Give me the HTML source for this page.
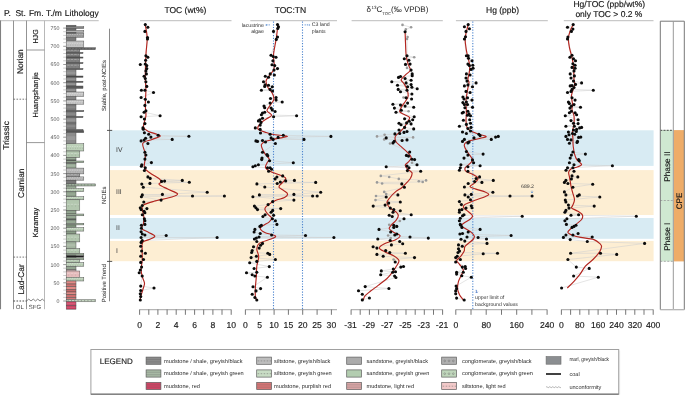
<!DOCTYPE html><html><head><meta charset="utf-8"><style>html,body{margin:0;padding:0;background:#fff;width:685px;height:395px;overflow:hidden}svg{display:block;will-change:transform}text{font-family:"Liberation Sans", sans-serif;text-rendering:geometricPrecision}</style></head><body>
<svg width="685" height="395" viewBox="0 0 685 395">
<rect width="685" height="395" fill="#fff"/>
<rect x="109.5" y="130.3" width="544.1" height="35.6" fill="#d8ebf3"/>
<rect x="109.5" y="170.1" width="544.1" height="44.9" fill="#fdeed3"/>
<rect x="109.5" y="218.0" width="544.1" height="20.8" fill="#d8ebf3"/>
<rect x="109.5" y="240.9" width="544.1" height="20.3" fill="#fdeed3"/>
<text x="4.0" y="15.6" font-size="8.50" text-anchor="start" fill="#151515" stroke="#151515" stroke-width="0.15">P.</text>
<text x="15.4" y="15.6" font-size="8.50" text-anchor="start" fill="#151515" stroke="#151515" stroke-width="0.15">St.</text>
<text x="28.9" y="15.6" font-size="8.50" text-anchor="start" fill="#151515" stroke="#151515" stroke-width="0.15">Fm.</text>
<text x="45.9" y="15.6" font-size="8.50" text-anchor="start" fill="#151515" stroke="#151515" stroke-width="0.15">T./m</text>
<text x="64.8" y="15.6" font-size="8.50" text-anchor="start" fill="#151515" stroke="#151515" stroke-width="0.15">Lithology</text>
<line x1="0" y1="20.6" x2="98.7" y2="20.6" stroke="#c9c9c9" stroke-width="1.2"/>
<line x1="140.0" y1="20.6" x2="231.5" y2="20.6" stroke="#c9c9c9" stroke-width="1.2"/>
<line x1="250.3" y1="20.6" x2="337.0" y2="20.6" stroke="#c9c9c9" stroke-width="1.2"/>
<line x1="351.6" y1="20.6" x2="442.8" y2="20.6" stroke="#c9c9c9" stroke-width="1.2"/>
<line x1="455.9" y1="20.6" x2="547.8" y2="20.6" stroke="#c9c9c9" stroke-width="1.2"/>
<line x1="563.8" y1="20.6" x2="653.5" y2="20.6" stroke="#c9c9c9" stroke-width="1.2"/>
<text x="185.4" y="12.5" font-size="8.50" text-anchor="middle" fill="#151515" stroke="#151515" stroke-width="0.15">TOC (wt%)</text>
<text x="290.4" y="12.5" font-size="8.50" text-anchor="middle" fill="#151515" stroke="#151515" stroke-width="0.15">TOC:TN</text>
<text x="366.6" y="12.0" font-size="8.0" fill="#1a1a1a">&#948;<tspan font-size="4.5" dy="-3.0" dx="0.4">13</tspan><tspan dy="3.0">C</tspan><tspan font-size="4.2" dy="2.6">TOC</tspan><tspan dy="-2.6">(&#8240; VPDB)</tspan></text>
<text x="502.6" y="12.5" font-size="8.50" text-anchor="middle" fill="#151515" stroke="#151515" stroke-width="0.15">Hg (ppb)</text>
<text x="609.2" y="7.0" font-size="8.50" text-anchor="middle" fill="#151515" stroke="#151515" stroke-width="0.15">Hg/TOC (ppb/wt%)</text>
<text x="608.9" y="17.0" font-size="8.50" text-anchor="middle" fill="#151515" stroke="#151515" stroke-width="0.15">only TOC &gt; 0.2 %</text>
<line x1="0.5" y1="20.6" x2="0.5" y2="309.2" stroke="#808080" stroke-width="1.1"/>
<line x1="13.5" y1="20.6" x2="13.5" y2="309.2" stroke="#939393" stroke-width="1"/>
<line x1="26.5" y1="20.6" x2="26.5" y2="309.2" stroke="#939393" stroke-width="1"/>
<line x1="44.5" y1="20.6" x2="44.5" y2="309.2" stroke="#b8b8b8" stroke-width="1"/>
<line x1="26.5" y1="50" x2="44.5" y2="50" stroke="#7d7d7d" stroke-width="0.8"/>
<line x1="26.5" y1="142.6" x2="44.5" y2="142.6" stroke="#7d7d7d" stroke-width="0.8"/>
<line x1="13.5" y1="99.2" x2="26.5" y2="99.2" stroke="#555" stroke-width="0.8" stroke-dasharray="1.6,1.4"/>
<line x1="13.5" y1="257.1" x2="26.5" y2="257.1" stroke="#555" stroke-width="0.8" stroke-dasharray="1.6,1.4"/>
<line x1="13.5" y1="301" x2="26.5" y2="301" stroke="#333" stroke-width="0.9" stroke-dasharray="1.6,1.4"/>
<path d="M26.5,301 l2.25,-1.9 l2.25,1.9 l2.25,-1.9 l2.25,1.9 l2.25,-1.9 l2.25,1.9 l2.25,-1.9 l2.25,1.9" fill="none" stroke="#666" stroke-width="0.8"/>
<text x="8.7" y="135.4" font-size="8.40" text-anchor="middle" fill="#151515" stroke="#151515" stroke-width="0.15" transform="rotate(-90 8.7 135.4)">Triassic</text>
<text x="22.6" y="61.6" font-size="8.40" text-anchor="middle" fill="#151515" stroke="#151515" stroke-width="0.15" transform="rotate(-90 22.6 61.6)">Norian</text>
<text x="23.6" y="183.2" font-size="8.40" text-anchor="middle" fill="#151515" stroke="#151515" stroke-width="0.15" transform="rotate(-90 23.6 183.2)">Carnian</text>
<text x="23.6" y="279.4" font-size="8.40" text-anchor="middle" fill="#151515" stroke="#151515" stroke-width="0.15" transform="rotate(-90 23.6 279.4)">Lad-Car</text>
<text x="38.1" y="36.4" font-size="7.20" text-anchor="middle" fill="#151515" stroke="#151515" stroke-width="0.15" transform="rotate(-90 38.1 36.4)">HJG</text>
<text x="38.0" y="94.8" font-size="7.40" text-anchor="middle" fill="#151515" stroke="#151515" stroke-width="0.15" transform="rotate(-90 38.0 94.8)">Huangshanjie</text>
<text x="38.0" y="222.5" font-size="7.40" text-anchor="middle" fill="#151515" stroke="#151515" stroke-width="0.15" transform="rotate(-90 38.0 222.5)">Karamay</text>
<text x="19.8" y="308.7" font-size="6.00" text-anchor="middle" fill="#444" stroke="#444" stroke-width="0.00">OL</text>
<text x="35.0" y="308.7" font-size="6.00" text-anchor="middle" fill="#444" stroke="#444" stroke-width="0.00">SFG</text>
<line x1="63.2" y1="301.0" x2="66.2" y2="301.0" stroke="#555" stroke-width="0.6"/>
<line x1="63.2" y1="297.4" x2="66.2" y2="297.4" stroke="#aaa" stroke-width="0.6"/>
<line x1="63.2" y1="293.7" x2="66.2" y2="293.7" stroke="#aaa" stroke-width="0.6"/>
<line x1="63.2" y1="290.1" x2="66.2" y2="290.1" stroke="#aaa" stroke-width="0.6"/>
<line x1="63.2" y1="286.4" x2="66.2" y2="286.4" stroke="#aaa" stroke-width="0.6"/>
<line x1="63.2" y1="282.8" x2="66.2" y2="282.8" stroke="#555" stroke-width="0.6"/>
<line x1="63.2" y1="279.2" x2="66.2" y2="279.2" stroke="#aaa" stroke-width="0.6"/>
<line x1="63.2" y1="275.5" x2="66.2" y2="275.5" stroke="#aaa" stroke-width="0.6"/>
<line x1="63.2" y1="271.9" x2="66.2" y2="271.9" stroke="#aaa" stroke-width="0.6"/>
<line x1="63.2" y1="268.2" x2="66.2" y2="268.2" stroke="#aaa" stroke-width="0.6"/>
<line x1="63.2" y1="264.6" x2="66.2" y2="264.6" stroke="#555" stroke-width="0.6"/>
<line x1="63.2" y1="261.0" x2="66.2" y2="261.0" stroke="#aaa" stroke-width="0.6"/>
<line x1="63.2" y1="257.3" x2="66.2" y2="257.3" stroke="#aaa" stroke-width="0.6"/>
<line x1="63.2" y1="253.7" x2="66.2" y2="253.7" stroke="#aaa" stroke-width="0.6"/>
<line x1="63.2" y1="250.1" x2="66.2" y2="250.1" stroke="#aaa" stroke-width="0.6"/>
<line x1="63.2" y1="246.4" x2="66.2" y2="246.4" stroke="#555" stroke-width="0.6"/>
<line x1="63.2" y1="242.8" x2="66.2" y2="242.8" stroke="#aaa" stroke-width="0.6"/>
<line x1="63.2" y1="239.1" x2="66.2" y2="239.1" stroke="#aaa" stroke-width="0.6"/>
<line x1="63.2" y1="235.5" x2="66.2" y2="235.5" stroke="#aaa" stroke-width="0.6"/>
<line x1="63.2" y1="231.9" x2="66.2" y2="231.9" stroke="#aaa" stroke-width="0.6"/>
<line x1="63.2" y1="228.2" x2="66.2" y2="228.2" stroke="#555" stroke-width="0.6"/>
<line x1="63.2" y1="224.6" x2="66.2" y2="224.6" stroke="#aaa" stroke-width="0.6"/>
<line x1="63.2" y1="220.9" x2="66.2" y2="220.9" stroke="#aaa" stroke-width="0.6"/>
<line x1="63.2" y1="217.3" x2="66.2" y2="217.3" stroke="#aaa" stroke-width="0.6"/>
<line x1="63.2" y1="213.7" x2="66.2" y2="213.7" stroke="#aaa" stroke-width="0.6"/>
<line x1="63.2" y1="210.0" x2="66.2" y2="210.0" stroke="#555" stroke-width="0.6"/>
<line x1="63.2" y1="206.4" x2="66.2" y2="206.4" stroke="#aaa" stroke-width="0.6"/>
<line x1="63.2" y1="202.7" x2="66.2" y2="202.7" stroke="#aaa" stroke-width="0.6"/>
<line x1="63.2" y1="199.1" x2="66.2" y2="199.1" stroke="#aaa" stroke-width="0.6"/>
<line x1="63.2" y1="195.5" x2="66.2" y2="195.5" stroke="#aaa" stroke-width="0.6"/>
<line x1="63.2" y1="191.8" x2="66.2" y2="191.8" stroke="#555" stroke-width="0.6"/>
<line x1="63.2" y1="188.2" x2="66.2" y2="188.2" stroke="#aaa" stroke-width="0.6"/>
<line x1="63.2" y1="184.6" x2="66.2" y2="184.6" stroke="#aaa" stroke-width="0.6"/>
<line x1="63.2" y1="180.9" x2="66.2" y2="180.9" stroke="#aaa" stroke-width="0.6"/>
<line x1="63.2" y1="177.3" x2="66.2" y2="177.3" stroke="#aaa" stroke-width="0.6"/>
<line x1="63.2" y1="173.6" x2="66.2" y2="173.6" stroke="#555" stroke-width="0.6"/>
<line x1="63.2" y1="170.0" x2="66.2" y2="170.0" stroke="#aaa" stroke-width="0.6"/>
<line x1="63.2" y1="166.4" x2="66.2" y2="166.4" stroke="#aaa" stroke-width="0.6"/>
<line x1="63.2" y1="162.7" x2="66.2" y2="162.7" stroke="#aaa" stroke-width="0.6"/>
<line x1="63.2" y1="159.1" x2="66.2" y2="159.1" stroke="#aaa" stroke-width="0.6"/>
<line x1="63.2" y1="155.4" x2="66.2" y2="155.4" stroke="#555" stroke-width="0.6"/>
<line x1="63.2" y1="151.8" x2="66.2" y2="151.8" stroke="#aaa" stroke-width="0.6"/>
<line x1="63.2" y1="148.2" x2="66.2" y2="148.2" stroke="#aaa" stroke-width="0.6"/>
<line x1="63.2" y1="144.5" x2="66.2" y2="144.5" stroke="#aaa" stroke-width="0.6"/>
<line x1="63.2" y1="140.9" x2="66.2" y2="140.9" stroke="#aaa" stroke-width="0.6"/>
<line x1="63.2" y1="137.2" x2="66.2" y2="137.2" stroke="#555" stroke-width="0.6"/>
<line x1="63.2" y1="133.6" x2="66.2" y2="133.6" stroke="#aaa" stroke-width="0.6"/>
<line x1="63.2" y1="130.0" x2="66.2" y2="130.0" stroke="#aaa" stroke-width="0.6"/>
<line x1="63.2" y1="126.3" x2="66.2" y2="126.3" stroke="#aaa" stroke-width="0.6"/>
<line x1="63.2" y1="122.7" x2="66.2" y2="122.7" stroke="#aaa" stroke-width="0.6"/>
<line x1="63.2" y1="119.1" x2="66.2" y2="119.1" stroke="#555" stroke-width="0.6"/>
<line x1="63.2" y1="115.4" x2="66.2" y2="115.4" stroke="#aaa" stroke-width="0.6"/>
<line x1="63.2" y1="111.8" x2="66.2" y2="111.8" stroke="#aaa" stroke-width="0.6"/>
<line x1="63.2" y1="108.1" x2="66.2" y2="108.1" stroke="#aaa" stroke-width="0.6"/>
<line x1="63.2" y1="104.5" x2="66.2" y2="104.5" stroke="#aaa" stroke-width="0.6"/>
<line x1="63.2" y1="100.9" x2="66.2" y2="100.9" stroke="#555" stroke-width="0.6"/>
<line x1="63.2" y1="97.2" x2="66.2" y2="97.2" stroke="#aaa" stroke-width="0.6"/>
<line x1="63.2" y1="93.6" x2="66.2" y2="93.6" stroke="#aaa" stroke-width="0.6"/>
<line x1="63.2" y1="89.9" x2="66.2" y2="89.9" stroke="#aaa" stroke-width="0.6"/>
<line x1="63.2" y1="86.3" x2="66.2" y2="86.3" stroke="#aaa" stroke-width="0.6"/>
<line x1="63.2" y1="82.7" x2="66.2" y2="82.7" stroke="#555" stroke-width="0.6"/>
<line x1="63.2" y1="79.0" x2="66.2" y2="79.0" stroke="#aaa" stroke-width="0.6"/>
<line x1="63.2" y1="75.4" x2="66.2" y2="75.4" stroke="#aaa" stroke-width="0.6"/>
<line x1="63.2" y1="71.7" x2="66.2" y2="71.7" stroke="#aaa" stroke-width="0.6"/>
<line x1="63.2" y1="68.1" x2="66.2" y2="68.1" stroke="#aaa" stroke-width="0.6"/>
<line x1="63.2" y1="64.5" x2="66.2" y2="64.5" stroke="#555" stroke-width="0.6"/>
<line x1="63.2" y1="60.8" x2="66.2" y2="60.8" stroke="#aaa" stroke-width="0.6"/>
<line x1="63.2" y1="57.2" x2="66.2" y2="57.2" stroke="#aaa" stroke-width="0.6"/>
<line x1="63.2" y1="53.5" x2="66.2" y2="53.5" stroke="#aaa" stroke-width="0.6"/>
<line x1="63.2" y1="49.9" x2="66.2" y2="49.9" stroke="#aaa" stroke-width="0.6"/>
<line x1="63.2" y1="46.3" x2="66.2" y2="46.3" stroke="#555" stroke-width="0.6"/>
<line x1="63.2" y1="42.6" x2="66.2" y2="42.6" stroke="#aaa" stroke-width="0.6"/>
<line x1="63.2" y1="39.0" x2="66.2" y2="39.0" stroke="#aaa" stroke-width="0.6"/>
<line x1="63.2" y1="35.4" x2="66.2" y2="35.4" stroke="#aaa" stroke-width="0.6"/>
<line x1="63.2" y1="31.7" x2="66.2" y2="31.7" stroke="#aaa" stroke-width="0.6"/>
<line x1="63.2" y1="28.1" x2="66.2" y2="28.1" stroke="#555" stroke-width="0.6"/>
<text x="59.4" y="302.9" font-size="5.30" text-anchor="end" fill="#555" stroke="#555" stroke-width="0.00">0</text>
<text x="59.4" y="284.7" font-size="5.30" text-anchor="end" fill="#555" stroke="#555" stroke-width="0.00">50</text>
<text x="59.4" y="266.5" font-size="5.30" text-anchor="end" fill="#555" stroke="#555" stroke-width="0.00">100</text>
<text x="59.4" y="248.3" font-size="5.30" text-anchor="end" fill="#555" stroke="#555" stroke-width="0.00">150</text>
<text x="59.4" y="230.1" font-size="5.30" text-anchor="end" fill="#555" stroke="#555" stroke-width="0.00">200</text>
<text x="59.4" y="211.9" font-size="5.30" text-anchor="end" fill="#555" stroke="#555" stroke-width="0.00">250</text>
<text x="59.4" y="193.7" font-size="5.30" text-anchor="end" fill="#555" stroke="#555" stroke-width="0.00">300</text>
<text x="59.4" y="175.5" font-size="5.30" text-anchor="end" fill="#555" stroke="#555" stroke-width="0.00">350</text>
<text x="59.4" y="157.3" font-size="5.30" text-anchor="end" fill="#555" stroke="#555" stroke-width="0.00">400</text>
<text x="59.4" y="139.1" font-size="5.30" text-anchor="end" fill="#555" stroke="#555" stroke-width="0.00">450</text>
<text x="59.4" y="121.0" font-size="5.30" text-anchor="end" fill="#555" stroke="#555" stroke-width="0.00">500</text>
<text x="59.4" y="102.8" font-size="5.30" text-anchor="end" fill="#555" stroke="#555" stroke-width="0.00">550</text>
<text x="59.4" y="84.6" font-size="5.30" text-anchor="end" fill="#555" stroke="#555" stroke-width="0.00">600</text>
<text x="59.4" y="66.4" font-size="5.30" text-anchor="end" fill="#555" stroke="#555" stroke-width="0.00">650</text>
<text x="59.4" y="48.2" font-size="5.30" text-anchor="end" fill="#555" stroke="#555" stroke-width="0.00">700</text>
<text x="59.4" y="30.0" font-size="5.30" text-anchor="end" fill="#555" stroke="#555" stroke-width="0.00">750</text>
<rect x="66.2" y="25.20" width="9.8" height="1.50" fill="#6a6a6a" stroke="#4a4a4a" stroke-width="0.45"/>
<rect x="66.2" y="26.70" width="17.6" height="1.80" fill="#858585" stroke="#4a4a4a" stroke-width="0.45"/>
<rect x="66.2" y="28.50" width="9.8" height="2.00" fill="#6a6a6a" stroke="#4a4a4a" stroke-width="0.45"/>
<rect x="66.2" y="30.50" width="17.6" height="1.90" fill="#b0b0b0" stroke="#4a4a4a" stroke-width="0.45"/>
<rect x="66.2" y="32.40" width="9.8" height="1.10" fill="#5e5e5e" stroke="#4a4a4a" stroke-width="0.45"/>
<rect x="66.2" y="33.50" width="17.6" height="3.80" fill="#9c9c9c" stroke="#4a4a4a" stroke-width="0.45"/>
<line x1="67.2" y1="34.50" x2="82.8" y2="34.50" stroke="#ffffff" stroke-opacity="0.35" stroke-width="0.9" stroke-dasharray="1.2,1.2"/>
<line x1="67.8" y1="36.30" x2="82.8" y2="36.30" stroke="#555" stroke-opacity="0.35" stroke-width="0.7" stroke-dasharray="0.8,1.6"/>
<rect x="66.2" y="37.50" width="9.8" height="3.10" fill="#7a7a7a" stroke="#4a4a4a" stroke-width="0.45"/>
<rect x="66.2" y="41.00" width="17.6" height="6.40" fill="#c4c4c4" stroke="#4a4a4a" stroke-width="0.45"/>
<line x1="67.2" y1="43.30" x2="82.8" y2="43.30" stroke="#ffffff" stroke-opacity="0.35" stroke-width="0.9" stroke-dasharray="1.2,1.2"/>
<line x1="67.8" y1="45.10" x2="82.8" y2="45.10" stroke="#555" stroke-opacity="0.35" stroke-width="0.7" stroke-dasharray="0.8,1.6"/>
<rect x="66.2" y="47.70" width="29.3" height="2.00" fill="#6a6a6a" stroke="#4a4a4a" stroke-width="0.45"/>
<line x1="67.7" y1="48.70" x2="94.5" y2="48.70" stroke="#333" stroke-opacity="0.6" stroke-width="0.8" stroke-dasharray="0.9,2.4"/>
<rect x="66.2" y="49.70" width="13.6" height="2.70" fill="#7c7c7c" stroke="#4a4a4a" stroke-width="0.45"/>
<line x1="67.2" y1="50.25" x2="78.8" y2="50.25" stroke="#fff" stroke-opacity="0.35" stroke-width="0.8" stroke-dasharray="2.5,1"/>
<line x1="68.2" y1="51.95" x2="78.8" y2="51.95" stroke="#444" stroke-opacity="0.3" stroke-width="0.6" stroke-dasharray="0.8,2.6"/>
<rect x="66.2" y="52.40" width="16.8" height="1.10" fill="#555" stroke="#4a4a4a" stroke-width="0.45"/>
<rect x="66.2" y="53.50" width="13.6" height="3.50" fill="#7c7c7c" stroke="#4a4a4a" stroke-width="0.45"/>
<line x1="67.2" y1="54.45" x2="78.8" y2="54.45" stroke="#fff" stroke-opacity="0.35" stroke-width="0.8" stroke-dasharray="2.5,1"/>
<line x1="68.2" y1="56.15" x2="78.8" y2="56.15" stroke="#444" stroke-opacity="0.3" stroke-width="0.6" stroke-dasharray="0.8,2.6"/>
<rect x="66.2" y="57.00" width="16.8" height="1.10" fill="#555" stroke="#4a4a4a" stroke-width="0.45"/>
<rect x="66.2" y="58.10" width="13.6" height="4.40" fill="#808080" stroke="#4a4a4a" stroke-width="0.45"/>
<line x1="67.2" y1="59.50" x2="78.8" y2="59.50" stroke="#fff" stroke-opacity="0.35" stroke-width="0.8" stroke-dasharray="2.5,1"/>
<line x1="68.2" y1="61.20" x2="78.8" y2="61.20" stroke="#444" stroke-opacity="0.3" stroke-width="0.6" stroke-dasharray="0.8,2.6"/>
<rect x="66.2" y="62.50" width="16.8" height="1.10" fill="#555" stroke="#4a4a4a" stroke-width="0.45"/>
<rect x="66.2" y="63.60" width="13.6" height="4.80" fill="#808080" stroke="#4a4a4a" stroke-width="0.45"/>
<line x1="67.2" y1="65.20" x2="78.8" y2="65.20" stroke="#fff" stroke-opacity="0.35" stroke-width="0.8" stroke-dasharray="2.5,1"/>
<line x1="68.2" y1="66.90" x2="78.8" y2="66.90" stroke="#444" stroke-opacity="0.3" stroke-width="0.6" stroke-dasharray="0.8,2.6"/>
<rect x="66.2" y="68.40" width="16.8" height="1.30" fill="#6a6a6a" stroke="#4a4a4a" stroke-width="0.45"/>
<rect x="66.2" y="69.70" width="9.8" height="6.30" fill="#888" stroke="#4a4a4a" stroke-width="0.45"/>
<line x1="66.5" y1="72.85" x2="75.7" y2="72.85" stroke="#fff" stroke-opacity="0.12" stroke-width="2.2"/>
<rect x="66.2" y="76.00" width="16.8" height="1.30" fill="#4a4a4a" stroke="#4a4a4a" stroke-width="0.45"/>
<rect x="66.2" y="77.30" width="9.8" height="3.90" fill="#858585" stroke="#4a4a4a" stroke-width="0.45"/>
<line x1="66.5" y1="79.25" x2="75.7" y2="79.25" stroke="#fff" stroke-opacity="0.12" stroke-width="1.4"/>
<rect x="66.2" y="81.20" width="16.8" height="1.20" fill="#555" stroke="#4a4a4a" stroke-width="0.45"/>
<rect x="66.2" y="82.40" width="9.8" height="3.60" fill="#878787" stroke="#4a4a4a" stroke-width="0.45"/>
<line x1="66.5" y1="84.20" x2="75.7" y2="84.20" stroke="#fff" stroke-opacity="0.12" stroke-width="1.3"/>
<rect x="66.2" y="86.00" width="16.8" height="2.40" fill="#5a5a5a" stroke="#4a4a4a" stroke-width="0.45"/>
<rect x="66.2" y="88.40" width="9.8" height="3.60" fill="#858585" stroke="#4a4a4a" stroke-width="0.45"/>
<line x1="66.5" y1="90.20" x2="75.7" y2="90.20" stroke="#fff" stroke-opacity="0.12" stroke-width="1.3"/>
<rect x="66.2" y="92.00" width="17.6" height="4.60" fill="#c8c8c8" stroke="#4a4a4a" stroke-width="0.45"/>
<line x1="67.2" y1="93.40" x2="82.8" y2="93.40" stroke="#ffffff" stroke-opacity="0.35" stroke-width="0.9" stroke-dasharray="1.2,1.2"/>
<line x1="67.8" y1="95.20" x2="82.8" y2="95.20" stroke="#555" stroke-opacity="0.35" stroke-width="0.7" stroke-dasharray="0.8,1.6"/>
<rect x="66.2" y="96.60" width="9.8" height="3.40" fill="#858585" stroke="#4a4a4a" stroke-width="0.45"/>
<rect x="66.2" y="100.00" width="17.6" height="4.20" fill="#c8c8c8" stroke="#4a4a4a" stroke-width="0.45"/>
<line x1="67.2" y1="101.20" x2="82.8" y2="101.20" stroke="#ffffff" stroke-opacity="0.35" stroke-width="0.9" stroke-dasharray="1.2,1.2"/>
<line x1="67.8" y1="103.00" x2="82.8" y2="103.00" stroke="#555" stroke-opacity="0.35" stroke-width="0.7" stroke-dasharray="0.8,1.6"/>
<rect x="66.2" y="104.20" width="9.8" height="6.20" fill="#7a7a7a" stroke="#4a4a4a" stroke-width="0.45"/>
<line x1="66.5" y1="107.30" x2="75.7" y2="107.30" stroke="#fff" stroke-opacity="0.12" stroke-width="2.2"/>
<rect x="66.2" y="110.40" width="17.6" height="1.30" fill="#6a6a6a" stroke="#4a4a4a" stroke-width="0.45"/>
<rect x="66.2" y="111.70" width="9.8" height="4.70" fill="#7c7c7c" stroke="#4a4a4a" stroke-width="0.45"/>
<line x1="66.5" y1="114.05" x2="75.7" y2="114.05" stroke="#fff" stroke-opacity="0.12" stroke-width="1.6"/>
<rect x="66.2" y="116.40" width="16.8" height="1.20" fill="#555" stroke="#4a4a4a" stroke-width="0.45"/>
<rect x="66.2" y="117.60" width="9.8" height="5.40" fill="#8a8a8a" stroke="#4a4a4a" stroke-width="0.45"/>
<line x1="66.5" y1="120.30" x2="75.7" y2="120.30" stroke="#fff" stroke-opacity="0.12" stroke-width="1.9"/>
<rect x="66.2" y="123.00" width="9.8" height="6.40" fill="#7a7a7a" stroke="#4a4a4a" stroke-width="0.45"/>
<line x1="66.5" y1="126.20" x2="75.7" y2="126.20" stroke="#fff" stroke-opacity="0.12" stroke-width="2.2"/>
<rect x="66.2" y="129.40" width="16.8" height="1.40" fill="#7a7a7a" stroke="#4a4a4a" stroke-width="0.45"/>
<rect x="66.2" y="130.80" width="17.6" height="1.80" fill="#555" stroke="#4a4a4a" stroke-width="0.45"/>
<rect x="66.2" y="132.60" width="9.8" height="11.10" fill="#8c8c8c" stroke="#4a4a4a" stroke-width="0.45"/>
<line x1="66.5" y1="138.15" x2="75.7" y2="138.15" stroke="#fff" stroke-opacity="0.12" stroke-width="3.9"/>
<rect x="66.2" y="143.70" width="17.6" height="7.30" fill="#bcd0b8" stroke="#4a4a4a" stroke-width="0.45"/>
<line x1="67.2" y1="146.45" x2="82.8" y2="146.45" stroke="#ffffff" stroke-opacity="0.35" stroke-width="0.9" stroke-dasharray="1.2,1.2"/>
<line x1="67.8" y1="148.25" x2="82.8" y2="148.25" stroke="#555" stroke-opacity="0.35" stroke-width="0.7" stroke-dasharray="0.8,1.6"/>
<rect x="66.2" y="151.00" width="13.6" height="6.60" fill="#b3c7af" stroke="#4a4a4a" stroke-width="0.45"/>
<line x1="67.2" y1="153.50" x2="78.8" y2="153.50" stroke="#fff" stroke-opacity="0.35" stroke-width="0.8" stroke-dasharray="2.5,1"/>
<line x1="68.2" y1="155.20" x2="78.8" y2="155.20" stroke="#444" stroke-opacity="0.3" stroke-width="0.6" stroke-dasharray="0.8,2.6"/>
<rect x="66.2" y="157.60" width="9.8" height="2.40" fill="#97a994" stroke="#4a4a4a" stroke-width="0.45"/>
<rect x="66.2" y="160.00" width="9.8" height="1.00" fill="#6e7e6c" stroke="#4a4a4a" stroke-width="0.45"/>
<rect x="66.2" y="161.00" width="17.6" height="1.60" fill="#a4b9a0" stroke="#4a4a4a" stroke-width="0.45"/>
<rect x="66.2" y="162.60" width="9.8" height="0.90" fill="#6e7e6c" stroke="#4a4a4a" stroke-width="0.45"/>
<rect x="66.2" y="163.50" width="9.8" height="4.60" fill="#97a994" stroke="#4a4a4a" stroke-width="0.45"/>
<line x1="66.5" y1="165.80" x2="75.7" y2="165.80" stroke="#fff" stroke-opacity="0.12" stroke-width="1.6"/>
<rect x="66.2" y="168.10" width="17.6" height="5.80" fill="#b8b8b8" stroke="#4a4a4a" stroke-width="0.45"/>
<line x1="67.2" y1="170.10" x2="82.8" y2="170.10" stroke="#ffffff" stroke-opacity="0.35" stroke-width="0.9" stroke-dasharray="1.2,1.2"/>
<line x1="67.8" y1="171.90" x2="82.8" y2="171.90" stroke="#555" stroke-opacity="0.35" stroke-width="0.7" stroke-dasharray="0.8,1.6"/>
<rect x="66.2" y="173.90" width="13.6" height="3.00" fill="#9c9c9c" stroke="#4a4a4a" stroke-width="0.45"/>
<line x1="67.2" y1="174.60" x2="78.8" y2="174.60" stroke="#fff" stroke-opacity="0.35" stroke-width="0.8" stroke-dasharray="2.5,1"/>
<line x1="68.2" y1="176.30" x2="78.8" y2="176.30" stroke="#444" stroke-opacity="0.3" stroke-width="0.6" stroke-dasharray="0.8,2.6"/>
<rect x="66.2" y="176.90" width="17.6" height="3.30" fill="#b8b8b8" stroke="#4a4a4a" stroke-width="0.45"/>
<line x1="67.2" y1="177.65" x2="82.8" y2="177.65" stroke="#ffffff" stroke-opacity="0.35" stroke-width="0.9" stroke-dasharray="1.2,1.2"/>
<line x1="67.8" y1="179.45" x2="82.8" y2="179.45" stroke="#555" stroke-opacity="0.35" stroke-width="0.7" stroke-dasharray="0.8,1.6"/>
<rect x="66.2" y="180.20" width="9.8" height="3.70" fill="#6e6e6e" stroke="#4a4a4a" stroke-width="0.45"/>
<line x1="66.5" y1="182.05" x2="75.7" y2="182.05" stroke="#fff" stroke-opacity="0.12" stroke-width="1.3"/>
<rect x="66.2" y="183.90" width="29.3" height="2.10" fill="#a9bca6" stroke="#4a4a4a" stroke-width="0.45"/>
<line x1="67.7" y1="184.95" x2="94.5" y2="184.95" stroke="#333" stroke-opacity="0.6" stroke-width="0.8" stroke-dasharray="0.9,2.4"/>
<rect x="66.2" y="186.00" width="9.8" height="2.30" fill="#97a994" stroke="#4a4a4a" stroke-width="0.45"/>
<rect x="66.2" y="188.30" width="17.6" height="3.30" fill="#bcd0b8" stroke="#4a4a4a" stroke-width="0.45"/>
<line x1="67.2" y1="189.05" x2="82.8" y2="189.05" stroke="#ffffff" stroke-opacity="0.35" stroke-width="0.9" stroke-dasharray="1.2,1.2"/>
<line x1="67.8" y1="190.85" x2="82.8" y2="190.85" stroke="#555" stroke-opacity="0.35" stroke-width="0.7" stroke-dasharray="0.8,1.6"/>
<rect x="66.2" y="191.60" width="9.8" height="5.00" fill="#8a9d87" stroke="#4a4a4a" stroke-width="0.45"/>
<line x1="66.5" y1="194.10" x2="75.7" y2="194.10" stroke="#fff" stroke-opacity="0.12" stroke-width="1.8"/>
<rect x="66.2" y="196.60" width="17.6" height="3.20" fill="#bcd0b8" stroke="#4a4a4a" stroke-width="0.45"/>
<line x1="67.2" y1="197.30" x2="82.8" y2="197.30" stroke="#ffffff" stroke-opacity="0.35" stroke-width="0.9" stroke-dasharray="1.2,1.2"/>
<line x1="67.8" y1="199.10" x2="82.8" y2="199.10" stroke="#555" stroke-opacity="0.35" stroke-width="0.7" stroke-dasharray="0.8,1.6"/>
<rect x="66.2" y="199.80" width="13.6" height="10.60" fill="#b3c7af" stroke="#4a4a4a" stroke-width="0.45"/>
<line x1="67.2" y1="204.30" x2="78.8" y2="204.30" stroke="#fff" stroke-opacity="0.35" stroke-width="0.8" stroke-dasharray="2.5,1"/>
<line x1="68.2" y1="206.00" x2="78.8" y2="206.00" stroke="#444" stroke-opacity="0.3" stroke-width="0.6" stroke-dasharray="0.8,2.6"/>
<rect x="66.2" y="210.40" width="9.8" height="3.60" fill="#8a9d87" stroke="#4a4a4a" stroke-width="0.45"/>
<line x1="66.5" y1="212.20" x2="75.7" y2="212.20" stroke="#fff" stroke-opacity="0.12" stroke-width="1.3"/>
<rect x="66.2" y="214.00" width="17.6" height="1.80" fill="#a9bea5" stroke="#4a4a4a" stroke-width="0.45"/>
<rect x="66.2" y="215.80" width="9.8" height="3.20" fill="#97a994" stroke="#4a4a4a" stroke-width="0.45"/>
<rect x="66.2" y="219.00" width="9.8" height="1.00" fill="#6e7e6c" stroke="#4a4a4a" stroke-width="0.45"/>
<rect x="66.2" y="220.00" width="9.8" height="3.30" fill="#97a994" stroke="#4a4a4a" stroke-width="0.45"/>
<rect x="66.2" y="223.30" width="17.6" height="1.60" fill="#a9bea5" stroke="#4a4a4a" stroke-width="0.45"/>
<rect x="66.2" y="224.90" width="9.8" height="2.60" fill="#7e917b" stroke="#4a4a4a" stroke-width="0.45"/>
<rect x="66.2" y="227.50" width="17.6" height="3.60" fill="#bcd0b8" stroke="#4a4a4a" stroke-width="0.45"/>
<line x1="67.2" y1="228.40" x2="82.8" y2="228.40" stroke="#ffffff" stroke-opacity="0.35" stroke-width="0.9" stroke-dasharray="1.2,1.2"/>
<line x1="67.8" y1="230.20" x2="82.8" y2="230.20" stroke="#555" stroke-opacity="0.35" stroke-width="0.7" stroke-dasharray="0.8,1.6"/>
<rect x="66.2" y="231.10" width="9.8" height="2.90" fill="#8a9d87" stroke="#4a4a4a" stroke-width="0.45"/>
<rect x="66.2" y="234.00" width="13.6" height="7.90" fill="#b3c7af" stroke="#4a4a4a" stroke-width="0.45"/>
<line x1="67.2" y1="237.15" x2="78.8" y2="237.15" stroke="#fff" stroke-opacity="0.35" stroke-width="0.8" stroke-dasharray="2.5,1"/>
<line x1="68.2" y1="238.85" x2="78.8" y2="238.85" stroke="#444" stroke-opacity="0.3" stroke-width="0.6" stroke-dasharray="0.8,2.6"/>
<rect x="66.2" y="241.90" width="9.8" height="6.60" fill="#a3b49f" stroke="#4a4a4a" stroke-width="0.45"/>
<line x1="66.5" y1="245.20" x2="75.7" y2="245.20" stroke="#fff" stroke-opacity="0.12" stroke-width="2.3"/>
<rect x="66.2" y="248.50" width="13.6" height="4.90" fill="#b3c7af" stroke="#4a4a4a" stroke-width="0.45"/>
<line x1="67.2" y1="250.15" x2="78.8" y2="250.15" stroke="#fff" stroke-opacity="0.35" stroke-width="0.8" stroke-dasharray="2.5,1"/>
<line x1="68.2" y1="251.85" x2="78.8" y2="251.85" stroke="#444" stroke-opacity="0.3" stroke-width="0.6" stroke-dasharray="0.8,2.6"/>
<rect x="66.2" y="253.40" width="17.6" height="1.60" fill="#a9bea5" stroke="#4a4a4a" stroke-width="0.45"/>
<rect x="66.2" y="255.00" width="9.8" height="0.70" fill="#97a994" stroke="#4a4a4a" stroke-width="0.45"/>
<rect x="66.2" y="255.70" width="17.6" height="1.50" fill="#1a1a1a" stroke="#4a4a4a" stroke-width="0.45"/>
<rect x="66.2" y="257.20" width="9.8" height="0.80" fill="#97a994" stroke="#4a4a4a" stroke-width="0.45"/>
<rect x="66.2" y="258.00" width="17.6" height="1.80" fill="#a9bea5" stroke="#4a4a4a" stroke-width="0.45"/>
<rect x="66.2" y="259.80" width="13.6" height="2.80" fill="#b3c7af" stroke="#4a4a4a" stroke-width="0.45"/>
<line x1="67.2" y1="260.40" x2="78.8" y2="260.40" stroke="#fff" stroke-opacity="0.35" stroke-width="0.8" stroke-dasharray="2.5,1"/>
<line x1="68.2" y1="262.10" x2="78.8" y2="262.10" stroke="#444" stroke-opacity="0.3" stroke-width="0.6" stroke-dasharray="0.8,2.6"/>
<rect x="66.2" y="262.60" width="17.6" height="3.70" fill="#bcd0b8" stroke="#4a4a4a" stroke-width="0.45"/>
<line x1="67.2" y1="263.55" x2="82.8" y2="263.55" stroke="#ffffff" stroke-opacity="0.35" stroke-width="0.9" stroke-dasharray="1.2,1.2"/>
<line x1="67.8" y1="265.35" x2="82.8" y2="265.35" stroke="#555" stroke-opacity="0.35" stroke-width="0.7" stroke-dasharray="0.8,1.6"/>
<rect x="66.2" y="266.30" width="9.8" height="3.50" fill="#93a490" stroke="#4a4a4a" stroke-width="0.45"/>
<rect x="66.2" y="269.80" width="9.8" height="1.20" fill="#e8c8c8" stroke="#4a4a4a" stroke-width="0.45"/>
<rect x="66.2" y="271.00" width="13.6" height="6.30" fill="#e6bcbc" stroke="#4a4a4a" stroke-width="0.45"/>
<line x1="67.2" y1="273.35" x2="78.8" y2="273.35" stroke="#fff" stroke-opacity="0.35" stroke-width="0.8" stroke-dasharray="2.5,1"/>
<line x1="68.2" y1="275.05" x2="78.8" y2="275.05" stroke="#444" stroke-opacity="0.3" stroke-width="0.6" stroke-dasharray="0.8,2.6"/>
<rect x="66.2" y="277.30" width="17.6" height="3.70" fill="#bcd0b8" stroke="#4a4a4a" stroke-width="0.45"/>
<line x1="67.2" y1="278.25" x2="82.8" y2="278.25" stroke="#ffffff" stroke-opacity="0.35" stroke-width="0.9" stroke-dasharray="1.2,1.2"/>
<line x1="67.8" y1="280.05" x2="82.8" y2="280.05" stroke="#555" stroke-opacity="0.35" stroke-width="0.7" stroke-dasharray="0.8,1.6"/>
<rect x="66.2" y="281.00" width="9.8" height="3.00" fill="#e28a86" stroke="#4a4a4a" stroke-width="0.45"/>
<rect x="66.2" y="284.00" width="9.8" height="2.60" fill="#cf7070" stroke="#4a4a4a" stroke-width="0.45"/>
<rect x="66.2" y="286.60" width="9.8" height="2.80" fill="#e28a86" stroke="#4a4a4a" stroke-width="0.45"/>
<rect x="66.2" y="289.40" width="9.8" height="2.60" fill="#c46a6a" stroke="#4a4a4a" stroke-width="0.45"/>
<rect x="66.2" y="292.00" width="9.8" height="2.80" fill="#e28a86" stroke="#4a4a4a" stroke-width="0.45"/>
<rect x="66.2" y="294.80" width="9.8" height="2.60" fill="#cf7070" stroke="#4a4a4a" stroke-width="0.45"/>
<rect x="66.2" y="297.40" width="9.8" height="2.20" fill="#d27a7a" stroke="#4a4a4a" stroke-width="0.45"/>
<rect x="66.2" y="299.60" width="29.3" height="2.20" fill="#c5d5c1" stroke="#4a4a4a" stroke-width="0.45"/>
<line x1="67.7" y1="300.70" x2="94.5" y2="300.70" stroke="#333" stroke-opacity="0.6" stroke-width="0.8" stroke-dasharray="0.9,2.4"/>
<rect x="66.2" y="301.80" width="9.8" height="3.70" fill="#cf4566" stroke="#4a4a4a" stroke-width="0.45"/>
<line x1="66.5" y1="303.65" x2="75.7" y2="303.65" stroke="#fff" stroke-opacity="0.12" stroke-width="1.3"/>
<rect x="66.2" y="305.50" width="9.8" height="3.70" fill="#c93c5e" stroke="#4a4a4a" stroke-width="0.45"/>
<line x1="66.5" y1="307.35" x2="75.7" y2="307.35" stroke="#fff" stroke-opacity="0.12" stroke-width="1.3"/>
<line x1="109.5" y1="28.7" x2="109.5" y2="301.3" stroke="#8a8a8a" stroke-width="1"/>
<line x1="107" y1="130.4" x2="112.2" y2="130.4" stroke="#444" stroke-width="0.9"/>
<line x1="107" y1="261.4" x2="112.2" y2="261.4" stroke="#444" stroke-width="0.9"/>
<text x="105.6" y="85.5" font-size="6.00" text-anchor="middle" fill="#151515" stroke="#151515" stroke-width="0.00" transform="rotate(-90 105.6 85.5)">Stable, post-NCIEs</text>
<text x="105.6" y="195.2" font-size="6.00" text-anchor="middle" fill="#151515" stroke="#151515" stroke-width="0.00" transform="rotate(-90 105.6 195.2)">NCIEs</text>
<text x="105.6" y="283.2" font-size="6.00" text-anchor="middle" fill="#151515" stroke="#151515" stroke-width="0.00" transform="rotate(-90 105.6 283.2)">Positive Trend</text>
<text x="116.0" y="152.0" font-size="6.80" text-anchor="start" fill="#3a3a3a" stroke="#3a3a3a" stroke-width="0.00">IV</text>
<text x="116.0" y="193.9" font-size="6.80" text-anchor="start" fill="#3a3a3a" stroke="#3a3a3a" stroke-width="0.00">III</text>
<text x="116.0" y="230.2" font-size="6.80" text-anchor="start" fill="#3a3a3a" stroke="#3a3a3a" stroke-width="0.00">II</text>
<text x="116.0" y="252.8" font-size="6.80" text-anchor="start" fill="#3a3a3a" stroke="#3a3a3a" stroke-width="0.00">I</text>
<line x1="273.5" y1="21.5" x2="273.5" y2="309" stroke="#4f86cf" stroke-width="1.1" stroke-dasharray="1.2,1.5"/>
<line x1="302.5" y1="21.5" x2="302.5" y2="309" stroke="#4f86cf" stroke-width="1.1" stroke-dasharray="1.2,1.5"/>
<line x1="472.8" y1="21.5" x2="472.8" y2="309" stroke="#4f86cf" stroke-width="1.1" stroke-dasharray="1.2,1.5"/>
<path d="M145.3,24.6 L147.9,27.3 L144.9,31.4 L147.5,37.5 L147.5,39.0 L145.9,55.7 L147.9,57.2 L145.6,60.3 L145.3,64.0 L140.3,64.5 L146.8,65.6 L146.8,68.6 L145.9,70.9 L146.4,73.9 L144.1,76.2 L145.3,78.5 L145.9,81.8 L146.8,86.4 L141.4,90.2 L144.9,90.2 L153.5,92.5 L141.1,97.5 L145.3,99.3 L148.4,102.0 L144.9,105.4 L145.9,110.7 L144.1,112.2 L160.1,115.7 L141.1,116.8 L144.4,119.0 L144.9,123.6 L142.9,127.9 L143.3,129.2 L144.4,132.7 L148.7,134.2 L158.1,135.3 L188.9,136.3 L150.9,137.1 L145.6,138.3 L172.2,139.4 L144.1,140.1 L141.1,140.9 L147.9,143.5 L144.9,152.3 L145.9,155.0 L144.9,159.1 L151.4,162.6 L141.8,164.7 L141.4,166.2 L145.3,167.8 L144.4,170.5 L147.9,176.9 L150.2,178.4 L182.3,180.4 L164.6,181.1 L161.6,181.4 L189.3,182.3 L149.9,183.4 L141.8,184.1 L143.3,187.2 L207.2,192.2 L162.4,194.4 L142.3,194.9 L192.5,196.0 L224.4,196.0 L141.4,196.7 L161.1,200.1 L143.8,202.0 L142.3,205.5 L140.3,207.7 L146.9,208.6 L141.1,209.6 L144.1,211.2 L144.9,212.7 L142.3,214.7 L144.4,218.8 L144.9,220.7 L144.9,224.4 L141.4,225.3 L141.4,228.3 L141.1,231.7 L142.3,234.0 L144.9,235.0 L166.2,235.5 L141.1,237.5 L217.1,237.5 L142.2,240.5 L141.1,242.4 L140.7,246.2 L141.6,251.0 L145.4,253.3 L140.7,256.3 L143.5,259.5 L140.7,262.4 L141.6,267.1 L140.3,270.0 L139.2,272.8 L142.2,276.0 L140.7,286.1 L154.0,288.0 L140.7,290.5 L140.3,293.7 L140.7,296.6 L140.3,300.0" fill="none" stroke="#cfcfcf" stroke-width="0.55"/>
<path d="M145.3,25.0 C145.6,27.2 147.1,33.0 147.2,38.0 C147.3,43.0 146.2,48.3 145.9,55.0 C145.6,61.7 145.3,72.2 145.3,78.0 C145.3,83.8 145.9,85.5 145.9,90.0 C145.9,94.5 145.3,100.7 145.3,105.0 C145.3,109.3 146.2,112.4 145.9,116.0 C145.6,119.6 143.1,124.1 143.4,126.6 C143.7,129.1 145.6,129.9 147.9,131.2 C150.2,132.5 155.0,133.3 157.0,134.2 C159.0,135.0 160.8,135.4 160.0,136.3 C159.2,137.2 154.8,138.3 152.0,139.5 C149.2,140.7 144.1,141.1 142.9,143.2 C141.7,145.3 144.5,149.8 144.9,152.3 C145.3,154.8 145.4,155.8 145.3,158.3 C145.2,160.8 143.6,165.1 144.4,167.5 C145.2,169.9 147.5,171.1 150.0,173.0 C152.5,174.9 157.5,177.3 159.3,178.8 C161.2,180.3 161.1,180.9 161.1,181.9 C161.1,182.9 158.2,183.4 159.3,184.6 C160.4,185.8 164.6,187.5 167.7,189.1 C170.8,190.7 177.2,192.6 177.6,194.0 C178.0,195.4 173.9,196.3 170.0,197.5 C166.1,198.7 158.4,200.0 154.0,201.3 C149.6,202.6 145.3,203.8 143.4,205.1 C141.5,206.4 142.2,207.0 142.3,208.9 C142.4,210.8 143.6,214.0 143.8,216.5 C144.0,219.0 143.7,222.0 143.4,224.0 C143.1,226.0 140.9,227.2 141.8,228.6 C142.7,230.0 146.5,231.1 148.7,232.4 C150.9,233.7 154.7,235.0 154.8,236.2 C154.9,237.4 151.2,238.6 149.2,239.6 C147.2,240.6 143.8,240.5 142.6,242.4 C141.4,244.3 142.3,248.0 142.2,251.0 C142.1,254.0 142.4,257.3 142.2,260.5 C142.0,263.7 141.0,267.1 141.1,270.0 C141.2,272.9 142.0,275.4 142.6,277.6 C143.2,279.8 144.4,281.4 144.5,283.3 C144.6,285.2 143.6,286.8 143.0,289.0 C142.4,291.2 141.2,294.8 140.7,296.6 C140.2,298.4 140.3,299.4 140.2,300.0" fill="none" stroke="#b3251f" stroke-width="1.15"/>
<circle cx="145.3" cy="24.6" r="1.55" fill="#0a0a0a"/>
<circle cx="147.9" cy="27.3" r="1.55" fill="#0a0a0a"/>
<circle cx="144.9" cy="31.4" r="1.55" fill="#0a0a0a"/>
<circle cx="147.5" cy="37.5" r="1.55" fill="#0a0a0a"/>
<circle cx="147.5" cy="39.0" r="1.55" fill="#0a0a0a"/>
<circle cx="145.9" cy="55.7" r="1.55" fill="#0a0a0a"/>
<circle cx="147.9" cy="57.2" r="1.55" fill="#0a0a0a"/>
<circle cx="145.6" cy="60.3" r="1.55" fill="#0a0a0a"/>
<circle cx="140.3" cy="64.5" r="1.55" fill="#0a0a0a"/>
<circle cx="145.3" cy="64.0" r="1.55" fill="#0a0a0a"/>
<circle cx="146.8" cy="65.6" r="1.55" fill="#0a0a0a"/>
<circle cx="146.8" cy="68.6" r="1.55" fill="#0a0a0a"/>
<circle cx="145.9" cy="70.9" r="1.55" fill="#0a0a0a"/>
<circle cx="146.4" cy="73.9" r="1.55" fill="#0a0a0a"/>
<circle cx="144.1" cy="76.2" r="1.55" fill="#0a0a0a"/>
<circle cx="145.3" cy="78.5" r="1.55" fill="#0a0a0a"/>
<circle cx="145.9" cy="81.8" r="1.55" fill="#0a0a0a"/>
<circle cx="146.8" cy="86.4" r="1.55" fill="#0a0a0a"/>
<circle cx="141.4" cy="90.2" r="1.55" fill="#0a0a0a"/>
<circle cx="144.9" cy="90.2" r="1.55" fill="#0a0a0a"/>
<circle cx="153.5" cy="92.5" r="1.55" fill="#0a0a0a"/>
<circle cx="141.1" cy="97.5" r="1.55" fill="#0a0a0a"/>
<circle cx="145.3" cy="99.3" r="1.55" fill="#0a0a0a"/>
<circle cx="148.4" cy="102.0" r="1.55" fill="#0a0a0a"/>
<circle cx="144.9" cy="105.4" r="1.55" fill="#0a0a0a"/>
<circle cx="145.9" cy="110.7" r="1.55" fill="#0a0a0a"/>
<circle cx="144.1" cy="112.2" r="1.55" fill="#0a0a0a"/>
<circle cx="141.1" cy="116.8" r="1.55" fill="#0a0a0a"/>
<circle cx="160.1" cy="115.7" r="1.55" fill="#0a0a0a"/>
<circle cx="144.4" cy="119.0" r="1.55" fill="#0a0a0a"/>
<circle cx="144.9" cy="123.6" r="1.55" fill="#0a0a0a"/>
<circle cx="142.9" cy="127.9" r="1.55" fill="#0a0a0a"/>
<circle cx="144.4" cy="132.7" r="1.55" fill="#0a0a0a"/>
<circle cx="148.7" cy="134.2" r="1.55" fill="#0a0a0a"/>
<circle cx="143.3" cy="129.2" r="1.55" fill="#0a0a0a"/>
<circle cx="158.1" cy="135.3" r="1.55" fill="#0a0a0a"/>
<circle cx="188.9" cy="136.3" r="1.55" fill="#0a0a0a"/>
<circle cx="150.9" cy="137.1" r="1.55" fill="#0a0a0a"/>
<circle cx="145.6" cy="138.3" r="1.55" fill="#0a0a0a"/>
<circle cx="172.2" cy="139.4" r="1.55" fill="#0a0a0a"/>
<circle cx="141.1" cy="140.9" r="1.55" fill="#0a0a0a"/>
<circle cx="144.1" cy="140.1" r="1.55" fill="#0a0a0a"/>
<circle cx="147.9" cy="143.5" r="1.55" fill="#0a0a0a"/>
<circle cx="144.9" cy="152.3" r="1.55" fill="#0a0a0a"/>
<circle cx="145.9" cy="155.0" r="1.55" fill="#0a0a0a"/>
<circle cx="144.9" cy="159.1" r="1.55" fill="#0a0a0a"/>
<circle cx="151.4" cy="162.6" r="1.55" fill="#0a0a0a"/>
<circle cx="141.8" cy="164.7" r="1.55" fill="#0a0a0a"/>
<circle cx="141.4" cy="166.2" r="1.55" fill="#0a0a0a"/>
<circle cx="145.3" cy="167.8" r="1.55" fill="#0a0a0a"/>
<circle cx="144.4" cy="170.5" r="1.55" fill="#0a0a0a"/>
<circle cx="147.9" cy="176.9" r="1.55" fill="#0a0a0a"/>
<circle cx="150.2" cy="178.4" r="1.55" fill="#0a0a0a"/>
<circle cx="164.6" cy="181.1" r="1.55" fill="#0a0a0a"/>
<circle cx="161.6" cy="181.4" r="1.55" fill="#0a0a0a"/>
<circle cx="182.3" cy="180.4" r="1.55" fill="#0a0a0a"/>
<circle cx="189.3" cy="182.3" r="1.55" fill="#0a0a0a"/>
<circle cx="149.9" cy="183.4" r="1.55" fill="#0a0a0a"/>
<circle cx="141.8" cy="184.1" r="1.55" fill="#0a0a0a"/>
<circle cx="143.3" cy="187.2" r="1.55" fill="#0a0a0a"/>
<circle cx="207.2" cy="192.2" r="1.55" fill="#0a0a0a"/>
<circle cx="162.4" cy="194.4" r="1.55" fill="#0a0a0a"/>
<circle cx="142.3" cy="194.9" r="1.55" fill="#0a0a0a"/>
<circle cx="141.4" cy="196.7" r="1.55" fill="#0a0a0a"/>
<circle cx="192.5" cy="196.0" r="1.55" fill="#0a0a0a"/>
<circle cx="224.4" cy="196.0" r="1.55" fill="#0a0a0a"/>
<circle cx="161.1" cy="200.1" r="1.55" fill="#0a0a0a"/>
<circle cx="143.8" cy="202.0" r="1.55" fill="#0a0a0a"/>
<circle cx="142.3" cy="205.5" r="1.55" fill="#0a0a0a"/>
<circle cx="140.3" cy="207.7" r="1.55" fill="#0a0a0a"/>
<circle cx="146.9" cy="208.6" r="1.55" fill="#0a0a0a"/>
<circle cx="141.1" cy="209.6" r="1.55" fill="#0a0a0a"/>
<circle cx="144.1" cy="211.2" r="1.55" fill="#0a0a0a"/>
<circle cx="144.9" cy="212.7" r="1.55" fill="#0a0a0a"/>
<circle cx="142.3" cy="214.7" r="1.55" fill="#0a0a0a"/>
<circle cx="144.4" cy="218.8" r="1.55" fill="#0a0a0a"/>
<circle cx="144.9" cy="220.7" r="1.55" fill="#0a0a0a"/>
<circle cx="144.9" cy="224.4" r="1.55" fill="#0a0a0a"/>
<circle cx="141.4" cy="225.3" r="1.55" fill="#0a0a0a"/>
<circle cx="141.4" cy="228.3" r="1.55" fill="#0a0a0a"/>
<circle cx="141.1" cy="231.7" r="1.55" fill="#0a0a0a"/>
<circle cx="142.3" cy="234.0" r="1.55" fill="#0a0a0a"/>
<circle cx="144.9" cy="235.0" r="1.55" fill="#0a0a0a"/>
<circle cx="166.2" cy="235.5" r="1.55" fill="#0a0a0a"/>
<circle cx="141.1" cy="237.5" r="1.55" fill="#0a0a0a"/>
<circle cx="217.1" cy="237.5" r="1.55" fill="#0a0a0a"/>
<circle cx="142.2" cy="240.5" r="1.55" fill="#0a0a0a"/>
<circle cx="141.1" cy="242.4" r="1.55" fill="#0a0a0a"/>
<circle cx="140.7" cy="246.2" r="1.55" fill="#0a0a0a"/>
<circle cx="141.6" cy="251.0" r="1.55" fill="#0a0a0a"/>
<circle cx="145.4" cy="253.3" r="1.55" fill="#0a0a0a"/>
<circle cx="140.7" cy="256.3" r="1.55" fill="#0a0a0a"/>
<circle cx="143.5" cy="259.5" r="1.55" fill="#0a0a0a"/>
<circle cx="140.7" cy="262.4" r="1.55" fill="#0a0a0a"/>
<circle cx="141.6" cy="267.1" r="1.55" fill="#0a0a0a"/>
<circle cx="140.3" cy="270.0" r="1.55" fill="#0a0a0a"/>
<circle cx="139.2" cy="272.8" r="1.55" fill="#0a0a0a"/>
<circle cx="142.2" cy="276.0" r="1.55" fill="#0a0a0a"/>
<circle cx="140.7" cy="286.1" r="1.55" fill="#0a0a0a"/>
<circle cx="154.0" cy="288.0" r="1.55" fill="#0a0a0a"/>
<circle cx="140.7" cy="290.5" r="1.55" fill="#0a0a0a"/>
<circle cx="140.3" cy="293.7" r="1.55" fill="#0a0a0a"/>
<circle cx="140.7" cy="296.6" r="1.55" fill="#0a0a0a"/>
<circle cx="140.3" cy="300.0" r="1.55" fill="#0a0a0a"/>
<path d="M277.5,24.6 L278.5,26.8 L277.8,28.4 L273.5,31.4 L277.5,37.0 L276.3,39.4 L271.0,55.2 L273.2,56.5 L276.0,57.2 L272.9,60.7 L272.0,64.8 L274.7,65.6 L277.5,68.6 L274.0,70.1 L270.2,73.9 L274.4,75.0 L265.3,76.2 L268.5,77.3 L263.5,81.8 L265.1,84.9 L268.5,85.3 L264.7,86.4 L272.3,86.8 L270.1,89.4 L261.4,90.2 L272.6,91.0 L276.1,97.5 L270.5,98.5 L276.1,100.1 L282.2,102.0 L270.1,103.1 L264.0,106.1 L264.7,107.7 L271.1,108.1 L272.3,109.9 L275.1,111.5 L264.7,112.2 L262.5,113.0 L261.4,114.8 L296.6,115.7 L273.6,116.8 L262.5,118.3 L259.9,119.8 L258.4,120.9 L261.0,122.4 L260.2,125.1 L255.3,127.9 L260.2,129.4 L260.5,133.0 L270.1,134.2 L283.3,135.3 L330.9,136.4 L278.1,137.4 L271.1,137.9 L304.0,139.4 L273.1,139.4 L262.5,140.5 L255.9,140.9 L257.5,141.4 L265.5,142.0 L275.4,143.5 L262.5,152.3 L267.0,154.6 L267.8,155.7 L262.0,158.1 L261.7,159.6 L269.6,160.7 L293.3,162.7 L258.4,164.8 L255.3,165.7 L252.9,166.8 L267.5,167.8 L270.1,167.8 L271.6,169.3 L268.6,171.3 L282.7,175.9 L276.9,177.0 L275.1,178.9 L294.4,180.4 L285.7,180.9 L280.3,182.0 L315.7,182.4 L277.2,183.5 L256.9,183.9 L264.8,187.0 L320.7,192.2 L293.9,194.4 L259.4,194.9 L312.6,196.0 L317.2,196.0 L252.9,196.7 L293.9,200.1 L272.7,201.6 L268.1,204.6 L254.4,206.1 L255.9,207.7 L280.7,208.6 L257.5,209.6 L272.7,210.4 L271.1,212.2 L265.1,214.7 L273.6,215.3 L262.9,216.5 L272.4,218.8 L275.4,220.7 L276.9,224.4 L261.4,225.3 L259.9,226.4 L254.9,229.4 L254.1,232.0 L260.2,233.5 L271.6,235.0 L305.5,235.5 L259.0,237.0 L333.9,237.5 L256.4,238.1 L254.4,239.0 L256.8,241.5 L262.5,243.4 L260.6,245.3 L253.5,246.8 L259.2,248.1 L252.2,250.6 L251.6,252.5 L267.8,253.3 L269.7,254.4 L256.4,256.3 L251.1,257.6 L275.4,259.5 L256.8,261.4 L249.7,262.8 L269.3,266.6 L254.1,268.5 L256.8,272.3 L246.5,272.8 L252.2,274.7 L254.9,276.0 L267.4,277.2 L253.0,286.7 L260.6,288.6 L256.0,290.9 L252.2,294.3 L254.9,297.5 L256.8,300.0" fill="none" stroke="#cfcfcf" stroke-width="0.55"/>
<path d="M277.8,25.3 C277.6,27.5 277.0,33.2 276.3,38.2 C275.6,43.2 273.8,50.4 273.5,55.0 C273.2,59.6 274.4,63.1 274.4,65.6 C274.4,68.1 274.4,68.4 273.5,70.1 C272.6,71.8 270.6,74.0 269.3,75.8 C268.1,77.6 266.2,79.2 266.0,81.1 C265.8,83.0 266.8,85.2 267.8,87.2 C268.9,89.2 271.3,91.2 272.3,93.2 C273.3,95.2 274.3,97.3 273.9,99.3 C273.5,101.3 271.2,103.5 270.1,105.4 C269.0,107.3 266.8,109.1 267.0,110.7 C267.2,112.3 271.7,113.9 271.6,115.3 C271.5,116.7 268.2,117.6 266.3,119.0 C264.4,120.4 261.6,121.9 260.2,123.6 C258.8,125.2 256.9,127.4 257.9,128.9 C258.9,130.4 263.4,131.5 266.3,132.5 C269.2,133.5 271.4,134.2 275.0,134.8 C278.6,135.5 287.5,135.7 287.6,136.4 C287.7,137.1 279.2,138.0 275.4,138.9 C271.6,139.8 267.1,140.7 264.8,141.7 C262.5,142.7 261.8,143.4 261.4,144.7 C261.0,146.0 261.8,147.7 262.5,149.3 C263.2,151.0 264.4,152.9 265.5,154.6 C266.6,156.2 269.1,157.8 269.3,159.2 C269.6,160.6 267.6,161.6 267.0,163.0 C266.4,164.4 265.0,166.1 265.5,167.5 C266.0,168.9 267.7,170.0 270.1,171.3 C272.5,172.6 277.4,173.9 280.0,175.1 C282.6,176.2 285.1,177.2 285.7,178.2 C286.3,179.2 284.8,180.1 283.8,181.2 C282.9,182.3 280.8,183.9 280.0,185.0 C279.2,186.1 278.6,186.6 279.2,187.5 C279.8,188.4 282.4,189.5 283.8,190.6 C285.2,191.7 287.5,192.8 287.6,194.0 C287.7,195.2 286.5,196.4 284.5,197.5 C282.5,198.6 278.2,199.2 275.4,200.5 C272.6,201.8 269.6,203.7 267.8,205.1 C266.0,206.5 264.8,207.4 264.8,208.9 C264.8,210.4 266.7,212.7 267.8,214.2 C268.9,215.7 271.4,216.7 271.6,218.0 C271.9,219.3 270.7,220.5 269.3,221.8 C267.9,223.1 264.7,224.5 263.2,225.6 C261.7,226.7 259.9,227.5 260.2,228.6 C260.5,229.7 262.3,231.2 264.8,232.4 C267.3,233.6 274.4,234.9 275.4,236.0 C276.4,237.1 273.7,237.8 271.0,239.0 C268.3,240.2 261.6,241.7 259.2,243.4 C256.8,245.1 256.9,246.9 256.8,249.1 C256.7,251.3 258.7,253.8 258.7,256.7 C258.7,259.6 257.2,263.0 256.8,266.2 C256.4,269.4 256.6,272.2 256.4,275.7 C256.2,279.2 255.6,283.6 255.4,287.1 C255.2,290.6 255.2,294.5 255.4,296.6 C255.6,298.8 256.6,299.4 256.8,300.0" fill="none" stroke="#b3251f" stroke-width="1.15"/>
<circle cx="277.5" cy="24.6" r="1.55" fill="#0a0a0a"/>
<circle cx="278.5" cy="26.8" r="1.55" fill="#0a0a0a"/>
<circle cx="277.8" cy="28.4" r="1.55" fill="#0a0a0a"/>
<circle cx="273.5" cy="31.4" r="1.55" fill="#0a0a0a"/>
<circle cx="277.5" cy="37.0" r="1.55" fill="#0a0a0a"/>
<circle cx="276.3" cy="39.4" r="1.55" fill="#0a0a0a"/>
<circle cx="271.0" cy="55.2" r="1.55" fill="#0a0a0a"/>
<circle cx="276.0" cy="57.2" r="1.55" fill="#0a0a0a"/>
<circle cx="273.2" cy="56.5" r="1.55" fill="#0a0a0a"/>
<circle cx="272.9" cy="60.7" r="1.55" fill="#0a0a0a"/>
<circle cx="272.0" cy="64.8" r="1.55" fill="#0a0a0a"/>
<circle cx="274.7" cy="65.6" r="1.55" fill="#0a0a0a"/>
<circle cx="277.5" cy="68.6" r="1.55" fill="#0a0a0a"/>
<circle cx="274.0" cy="70.1" r="1.55" fill="#0a0a0a"/>
<circle cx="274.4" cy="75.0" r="1.55" fill="#0a0a0a"/>
<circle cx="270.2" cy="73.9" r="1.55" fill="#0a0a0a"/>
<circle cx="265.3" cy="76.2" r="1.55" fill="#0a0a0a"/>
<circle cx="268.5" cy="77.3" r="1.55" fill="#0a0a0a"/>
<circle cx="263.5" cy="81.8" r="1.55" fill="#0a0a0a"/>
<circle cx="265.1" cy="84.9" r="1.55" fill="#0a0a0a"/>
<circle cx="268.5" cy="85.3" r="1.55" fill="#0a0a0a"/>
<circle cx="272.3" cy="86.8" r="1.55" fill="#0a0a0a"/>
<circle cx="264.7" cy="86.4" r="1.55" fill="#0a0a0a"/>
<circle cx="261.4" cy="90.2" r="1.55" fill="#0a0a0a"/>
<circle cx="270.1" cy="89.4" r="1.55" fill="#0a0a0a"/>
<circle cx="272.6" cy="91.0" r="1.55" fill="#0a0a0a"/>
<circle cx="276.1" cy="97.5" r="1.55" fill="#0a0a0a"/>
<circle cx="270.5" cy="98.5" r="1.55" fill="#0a0a0a"/>
<circle cx="276.1" cy="100.1" r="1.55" fill="#0a0a0a"/>
<circle cx="282.2" cy="102.0" r="1.55" fill="#0a0a0a"/>
<circle cx="270.1" cy="103.1" r="1.55" fill="#0a0a0a"/>
<circle cx="264.0" cy="106.1" r="1.55" fill="#0a0a0a"/>
<circle cx="264.7" cy="107.7" r="1.55" fill="#0a0a0a"/>
<circle cx="271.1" cy="108.1" r="1.55" fill="#0a0a0a"/>
<circle cx="272.3" cy="109.9" r="1.55" fill="#0a0a0a"/>
<circle cx="275.1" cy="111.5" r="1.55" fill="#0a0a0a"/>
<circle cx="264.7" cy="112.2" r="1.55" fill="#0a0a0a"/>
<circle cx="262.5" cy="113.0" r="1.55" fill="#0a0a0a"/>
<circle cx="261.4" cy="114.8" r="1.55" fill="#0a0a0a"/>
<circle cx="296.6" cy="115.7" r="1.55" fill="#0a0a0a"/>
<circle cx="273.6" cy="116.8" r="1.55" fill="#0a0a0a"/>
<circle cx="262.5" cy="118.3" r="1.55" fill="#0a0a0a"/>
<circle cx="259.9" cy="119.8" r="1.55" fill="#0a0a0a"/>
<circle cx="258.4" cy="120.9" r="1.55" fill="#0a0a0a"/>
<circle cx="261.0" cy="122.4" r="1.55" fill="#0a0a0a"/>
<circle cx="260.2" cy="125.1" r="1.55" fill="#0a0a0a"/>
<circle cx="255.3" cy="127.9" r="1.55" fill="#0a0a0a"/>
<circle cx="260.2" cy="129.4" r="1.55" fill="#0a0a0a"/>
<circle cx="260.5" cy="133.0" r="1.55" fill="#0a0a0a"/>
<circle cx="270.1" cy="134.2" r="1.55" fill="#0a0a0a"/>
<circle cx="283.3" cy="135.3" r="1.55" fill="#0a0a0a"/>
<circle cx="330.9" cy="136.4" r="1.55" fill="#0a0a0a"/>
<circle cx="278.1" cy="137.4" r="1.55" fill="#0a0a0a"/>
<circle cx="271.1" cy="137.9" r="1.55" fill="#0a0a0a"/>
<circle cx="304.0" cy="139.4" r="1.55" fill="#0a0a0a"/>
<circle cx="273.1" cy="139.4" r="1.55" fill="#0a0a0a"/>
<circle cx="255.9" cy="140.9" r="1.55" fill="#0a0a0a"/>
<circle cx="257.5" cy="141.4" r="1.55" fill="#0a0a0a"/>
<circle cx="262.5" cy="140.5" r="1.55" fill="#0a0a0a"/>
<circle cx="265.5" cy="142.0" r="1.55" fill="#0a0a0a"/>
<circle cx="275.4" cy="143.5" r="1.55" fill="#0a0a0a"/>
<circle cx="262.5" cy="152.3" r="1.55" fill="#0a0a0a"/>
<circle cx="267.0" cy="154.6" r="1.55" fill="#0a0a0a"/>
<circle cx="267.8" cy="155.7" r="1.55" fill="#0a0a0a"/>
<circle cx="262.0" cy="158.1" r="1.55" fill="#0a0a0a"/>
<circle cx="261.7" cy="159.6" r="1.55" fill="#0a0a0a"/>
<circle cx="269.6" cy="160.7" r="1.55" fill="#0a0a0a"/>
<circle cx="293.3" cy="162.7" r="1.55" fill="#0a0a0a"/>
<circle cx="258.4" cy="164.8" r="1.55" fill="#0a0a0a"/>
<circle cx="255.3" cy="165.7" r="1.55" fill="#0a0a0a"/>
<circle cx="252.9" cy="166.8" r="1.55" fill="#0a0a0a"/>
<circle cx="267.5" cy="167.8" r="1.55" fill="#0a0a0a"/>
<circle cx="270.1" cy="167.8" r="1.55" fill="#0a0a0a"/>
<circle cx="271.6" cy="169.3" r="1.55" fill="#0a0a0a"/>
<circle cx="268.6" cy="171.3" r="1.55" fill="#0a0a0a"/>
<circle cx="282.7" cy="175.9" r="1.55" fill="#0a0a0a"/>
<circle cx="276.9" cy="177.0" r="1.55" fill="#0a0a0a"/>
<circle cx="275.1" cy="178.9" r="1.55" fill="#0a0a0a"/>
<circle cx="294.4" cy="180.4" r="1.55" fill="#0a0a0a"/>
<circle cx="285.7" cy="180.9" r="1.55" fill="#0a0a0a"/>
<circle cx="280.3" cy="182.0" r="1.55" fill="#0a0a0a"/>
<circle cx="315.7" cy="182.4" r="1.55" fill="#0a0a0a"/>
<circle cx="277.2" cy="183.5" r="1.55" fill="#0a0a0a"/>
<circle cx="256.9" cy="183.9" r="1.55" fill="#0a0a0a"/>
<circle cx="264.8" cy="187.0" r="1.55" fill="#0a0a0a"/>
<circle cx="320.7" cy="192.2" r="1.55" fill="#0a0a0a"/>
<circle cx="259.4" cy="194.9" r="1.55" fill="#0a0a0a"/>
<circle cx="293.9" cy="194.4" r="1.55" fill="#0a0a0a"/>
<circle cx="312.6" cy="196.0" r="1.55" fill="#0a0a0a"/>
<circle cx="317.2" cy="196.0" r="1.55" fill="#0a0a0a"/>
<circle cx="252.9" cy="196.7" r="1.55" fill="#0a0a0a"/>
<circle cx="293.9" cy="200.1" r="1.55" fill="#0a0a0a"/>
<circle cx="272.7" cy="201.6" r="1.55" fill="#0a0a0a"/>
<circle cx="268.1" cy="204.6" r="1.55" fill="#0a0a0a"/>
<circle cx="254.4" cy="206.1" r="1.55" fill="#0a0a0a"/>
<circle cx="255.9" cy="207.7" r="1.55" fill="#0a0a0a"/>
<circle cx="257.5" cy="209.6" r="1.55" fill="#0a0a0a"/>
<circle cx="280.7" cy="208.6" r="1.55" fill="#0a0a0a"/>
<circle cx="272.7" cy="210.4" r="1.55" fill="#0a0a0a"/>
<circle cx="271.1" cy="212.2" r="1.55" fill="#0a0a0a"/>
<circle cx="273.6" cy="215.3" r="1.55" fill="#0a0a0a"/>
<circle cx="265.1" cy="214.7" r="1.55" fill="#0a0a0a"/>
<circle cx="262.9" cy="216.5" r="1.55" fill="#0a0a0a"/>
<circle cx="272.4" cy="218.8" r="1.55" fill="#0a0a0a"/>
<circle cx="275.4" cy="220.7" r="1.55" fill="#0a0a0a"/>
<circle cx="276.9" cy="224.4" r="1.55" fill="#0a0a0a"/>
<circle cx="261.4" cy="225.3" r="1.55" fill="#0a0a0a"/>
<circle cx="259.9" cy="226.4" r="1.55" fill="#0a0a0a"/>
<circle cx="254.9" cy="229.4" r="1.55" fill="#0a0a0a"/>
<circle cx="254.1" cy="232.0" r="1.55" fill="#0a0a0a"/>
<circle cx="260.2" cy="233.5" r="1.55" fill="#0a0a0a"/>
<circle cx="271.6" cy="235.0" r="1.55" fill="#0a0a0a"/>
<circle cx="305.5" cy="235.5" r="1.55" fill="#0a0a0a"/>
<circle cx="259.0" cy="237.0" r="1.55" fill="#0a0a0a"/>
<circle cx="256.4" cy="238.1" r="1.55" fill="#0a0a0a"/>
<circle cx="254.4" cy="239.0" r="1.55" fill="#0a0a0a"/>
<circle cx="333.9" cy="237.5" r="1.55" fill="#0a0a0a"/>
<circle cx="256.8" cy="241.5" r="1.55" fill="#0a0a0a"/>
<circle cx="262.5" cy="243.4" r="1.55" fill="#0a0a0a"/>
<circle cx="260.6" cy="245.3" r="1.55" fill="#0a0a0a"/>
<circle cx="253.5" cy="246.8" r="1.55" fill="#0a0a0a"/>
<circle cx="259.2" cy="248.1" r="1.55" fill="#0a0a0a"/>
<circle cx="252.2" cy="250.6" r="1.55" fill="#0a0a0a"/>
<circle cx="251.6" cy="252.5" r="1.55" fill="#0a0a0a"/>
<circle cx="267.8" cy="253.3" r="1.55" fill="#0a0a0a"/>
<circle cx="269.7" cy="254.4" r="1.55" fill="#0a0a0a"/>
<circle cx="256.4" cy="256.3" r="1.55" fill="#0a0a0a"/>
<circle cx="251.1" cy="257.6" r="1.55" fill="#0a0a0a"/>
<circle cx="275.4" cy="259.5" r="1.55" fill="#0a0a0a"/>
<circle cx="256.8" cy="261.4" r="1.55" fill="#0a0a0a"/>
<circle cx="249.7" cy="262.8" r="1.55" fill="#0a0a0a"/>
<circle cx="269.3" cy="266.6" r="1.55" fill="#0a0a0a"/>
<circle cx="254.1" cy="268.5" r="1.55" fill="#0a0a0a"/>
<circle cx="246.5" cy="272.8" r="1.55" fill="#0a0a0a"/>
<circle cx="256.8" cy="272.3" r="1.55" fill="#0a0a0a"/>
<circle cx="252.2" cy="274.7" r="1.55" fill="#0a0a0a"/>
<circle cx="254.9" cy="276.0" r="1.55" fill="#0a0a0a"/>
<circle cx="267.4" cy="277.2" r="1.55" fill="#0a0a0a"/>
<circle cx="253.0" cy="286.7" r="1.55" fill="#0a0a0a"/>
<circle cx="260.6" cy="288.6" r="1.55" fill="#0a0a0a"/>
<circle cx="256.0" cy="290.9" r="1.55" fill="#0a0a0a"/>
<circle cx="252.2" cy="294.3" r="1.55" fill="#0a0a0a"/>
<circle cx="254.9" cy="297.5" r="1.55" fill="#0a0a0a"/>
<circle cx="256.8" cy="300.0" r="1.55" fill="#0a0a0a"/>
<path d="M402.5,24.9 L411.1,27.3 L405.8,29.4 L405.1,31.8 L407.6,37.0 L407.0,39.0 L407.0,55.7 L414.2,57.2 L404.3,58.7 L408.9,60.3 L410.1,64.1 L405.5,64.4 L407.0,67.9 L411.1,70.1 L412.2,73.9 L412.2,75.8 L400.5,76.5 L398.5,77.4 L405.1,78.5 L411.1,80.2 L391.8,81.8 L406.1,82.9 L411.1,84.6 L397.5,85.3 L407.6,86.8 L411.9,87.2 L417.2,88.7 L398.2,89.4 L407.0,90.2 L400.5,91.7 L411.9,94.0 L403.5,97.5 L406.1,97.8 L411.6,99.0 L407.6,103.1 L392.9,104.2 L400.5,105.1 L405.1,106.1 L413.7,107.2 L394.4,108.1 L401.3,110.2 L408.6,111.2 L396.0,112.2 L414.2,116.8 L404.6,118.7 L412.7,119.8 L409.2,121.3 L406.6,122.9 L399.0,123.3 L411.1,123.9 L401.0,124.8 L404.6,127.4 L413.7,128.9 L399.0,130.0 L407.0,131.5 L404.0,132.4 L399.7,133.5 L394.9,133.9 L384.6,134.8 L377.0,136.4 L413.1,137.4 L386.2,137.9 L384.2,139.4 L407.0,139.9 L402.1,140.5 L394.2,141.4 L393.0,142.9 L390.0,143.5 L409.7,152.0 L406.4,155.4 L408.5,156.1 L412.0,159.2 L414.6,159.6 L412.0,162.7 L417.0,164.8 L407.0,166.0 L386.2,166.8 L409.0,167.8 L407.4,170.6 L420.7,171.3 L380.8,175.9 L389.2,177.0 L398.8,178.9 L426.1,180.4 L418.8,181.2 L422.7,182.0 L377.0,182.4 L382.1,183.5 L401.8,183.9 L404.4,187.3 L384.2,191.9 L386.2,194.0 L397.9,194.9 L376.0,196.0 L386.2,197.0 L375.5,200.1 L400.3,202.0 L388.7,203.1 L385.1,205.1 L373.2,206.1 L390.3,208.1 L393.8,209.6 L400.3,210.7 L393.0,212.2 L411.2,214.7 L389.2,215.3 L392.2,216.5 L404.0,218.8 L399.8,221.0 L389.2,224.8 L393.8,225.3 L396.8,226.4 L393.8,227.4 L379.0,229.4 L390.7,232.0 L396.8,234.0 L394.8,235.0 L388.1,235.5 L410.0,237.0 L428.3,238.1 L390.7,238.1 L377.8,239.0 L390.2,240.5 L399.7,241.5 L402.7,243.8 L391.4,244.9 L373.1,246.8 L376.9,248.1 L385.7,250.6 L389.8,252.5 L405.4,253.2 L376.9,254.4 L383.2,256.3 L414.5,257.6 L393.6,259.5 L395.2,262.0 L403.5,266.5 L400.8,267.1 L393.3,269.0 L381.3,270.9 L395.5,271.8 L392.7,272.2 L380.7,274.7 L394.6,276.0 L395.9,277.5 L365.2,286.6 L388.9,288.5 L358.5,290.8 L362.3,294.2 L369.4,298.0 L362.3,299.9" fill="none" stroke="#cfcfcf" stroke-width="0.55"/>
<circle cx="402.5" cy="24.9" r="1.3" fill="#9a9a9a"/>
<circle cx="411.1" cy="27.3" r="1.3" fill="#9a9a9a"/>
<circle cx="405.8" cy="29.4" r="1.3" fill="#9a9a9a"/>
<circle cx="407.6" cy="37.0" r="1.3" fill="#9a9a9a"/>
<circle cx="407.0" cy="39.0" r="1.3" fill="#9a9a9a"/>
<circle cx="414.2" cy="57.2" r="1.3" fill="#9a9a9a"/>
<circle cx="407.0" cy="67.9" r="1.3" fill="#9a9a9a"/>
<circle cx="403.5" cy="97.5" r="1.3" fill="#9a9a9a"/>
<circle cx="408.6" cy="111.2" r="1.3" fill="#9a9a9a"/>
<circle cx="377.0" cy="136.4" r="1.3" fill="#9a9a9a"/>
<circle cx="384.6" cy="134.8" r="1.3" fill="#9a9a9a"/>
<circle cx="413.1" cy="137.4" r="1.3" fill="#9a9a9a"/>
<circle cx="384.2" cy="139.4" r="1.3" fill="#9a9a9a"/>
<circle cx="390.0" cy="143.5" r="1.3" fill="#9a9a9a"/>
<circle cx="412.0" cy="162.7" r="1.3" fill="#9a9a9a"/>
<circle cx="380.8" cy="175.9" r="1.3" fill="#9a9a9a"/>
<circle cx="389.2" cy="177.0" r="1.3" fill="#9a9a9a"/>
<circle cx="398.8" cy="178.9" r="1.3" fill="#9a9a9a"/>
<circle cx="418.8" cy="181.2" r="1.3" fill="#9a9a9a"/>
<circle cx="422.7" cy="182.0" r="1.3" fill="#9a9a9a"/>
<circle cx="426.1" cy="180.4" r="1.3" fill="#9a9a9a"/>
<circle cx="377.0" cy="182.4" r="1.3" fill="#9a9a9a"/>
<circle cx="382.1" cy="183.5" r="1.3" fill="#9a9a9a"/>
<circle cx="384.2" cy="191.9" r="1.3" fill="#9a9a9a"/>
<circle cx="386.2" cy="194.0" r="1.3" fill="#9a9a9a"/>
<circle cx="376.0" cy="196.0" r="1.3" fill="#9a9a9a"/>
<circle cx="375.5" cy="200.1" r="1.3" fill="#9a9a9a"/>
<circle cx="399.8" cy="221.0" r="1.3" fill="#9a9a9a"/>
<circle cx="389.2" cy="224.8" r="1.3" fill="#9a9a9a"/>
<circle cx="388.1" cy="235.5" r="1.3" fill="#9a9a9a"/>
<circle cx="390.7" cy="238.1" r="1.3" fill="#9a9a9a"/>
<circle cx="393.6" cy="259.5" r="1.3" fill="#9a9a9a"/>
<path d="M405.1,31.8 C405.2,33.6 405.3,38.9 405.5,42.8 C405.7,46.7 405.7,51.5 406.1,55.0 C406.5,58.5 407.4,61.6 408.1,64.1 C408.8,66.6 410.6,68.5 410.4,70.1 C410.1,71.7 408.0,72.5 406.6,73.9 C405.2,75.3 402.9,77.4 402.0,78.5 C401.1,79.6 400.9,79.6 401.3,80.5 C401.7,81.4 403.3,82.5 404.3,84.1 C405.3,85.7 406.7,88.2 407.3,90.2 C407.9,92.2 408.4,94.5 408.1,96.3 C407.9,98.1 406.8,99.2 405.8,100.8 C404.8,102.4 403.0,104.3 402.0,106.1 C401.0,107.9 399.3,110.1 399.7,111.5 C400.1,112.9 402.6,113.5 404.3,114.5 C406.0,115.5 409.1,116.2 409.6,117.5 C410.1,118.8 408.2,120.4 407.3,122.1 C406.4,123.8 405.7,125.6 404.3,127.4 C402.9,129.2 400.4,131.3 399.0,132.7 C397.6,134.0 396.7,134.6 396.0,135.5 C395.3,136.4 395.0,137.0 395.0,138.0 C395.0,139.0 395.1,140.3 396.0,141.7 C396.9,143.1 398.7,144.4 400.6,146.2 C402.5,148.0 405.6,150.4 407.4,152.3 C409.2,154.2 411.1,155.9 411.2,157.6 C411.3,159.2 409.2,160.9 408.2,162.2 C407.2,163.5 405.3,164.1 405.2,165.2 C405.1,166.3 406.3,167.7 407.4,169.0 C408.5,170.3 411.5,171.3 412.0,172.8 C412.5,174.3 411.4,176.5 410.5,178.2 C409.6,179.8 408.2,181.1 406.7,182.7 C405.2,184.3 403.2,186.6 401.4,188.0 C399.6,189.4 397.9,189.8 396.0,191.4 C394.1,193.0 391.5,195.6 390.0,197.5 C388.5,199.4 386.9,201.0 386.9,202.8 C386.9,204.6 388.5,206.6 390.0,208.1 C391.5,209.6 394.6,210.6 396.0,211.9 C397.4,213.2 398.3,214.3 398.3,215.7 C398.3,217.1 397.1,218.8 396.0,220.3 C394.9,221.8 392.6,223.4 391.5,224.8 C390.4,226.2 388.9,227.4 389.2,228.6 C389.5,229.8 391.7,231.0 393.5,232.2 C395.3,233.3 399.6,234.3 400.0,235.5 C400.4,236.7 398.7,238.1 396.0,239.5 C393.3,240.9 386.8,242.6 384.0,244.0 C381.2,245.4 379.2,246.8 379.4,248.1 C379.6,249.4 382.7,250.6 385.1,251.9 C387.5,253.2 391.3,254.3 393.6,255.7 C395.9,257.1 398.4,258.8 398.9,260.5 C399.4,262.2 397.5,264.2 396.5,266.1 C395.5,268.0 394.3,269.7 392.7,271.8 C391.1,273.9 389.4,276.3 387.0,278.5 C384.6,280.7 381.2,283.1 378.5,285.1 C375.8,287.2 373.1,289.1 370.9,290.8 C368.7,292.6 366.5,294.1 365.2,295.6 C363.9,297.1 363.6,299.2 363.3,299.9" fill="none" stroke="#b3251f" stroke-width="1.15"/>
<circle cx="405.1" cy="31.8" r="1.55" fill="#0a0a0a"/>
<circle cx="407.0" cy="55.7" r="1.55" fill="#0a0a0a"/>
<circle cx="404.3" cy="58.7" r="1.55" fill="#0a0a0a"/>
<circle cx="408.9" cy="60.3" r="1.55" fill="#0a0a0a"/>
<circle cx="405.5" cy="64.4" r="1.55" fill="#0a0a0a"/>
<circle cx="410.1" cy="64.1" r="1.55" fill="#0a0a0a"/>
<circle cx="411.1" cy="70.1" r="1.55" fill="#0a0a0a"/>
<circle cx="412.2" cy="73.9" r="1.55" fill="#0a0a0a"/>
<circle cx="398.5" cy="77.4" r="1.55" fill="#0a0a0a"/>
<circle cx="400.5" cy="76.5" r="1.55" fill="#0a0a0a"/>
<circle cx="405.1" cy="78.5" r="1.55" fill="#0a0a0a"/>
<circle cx="411.1" cy="80.2" r="1.55" fill="#0a0a0a"/>
<circle cx="412.2" cy="75.8" r="1.55" fill="#0a0a0a"/>
<circle cx="391.8" cy="81.8" r="1.55" fill="#0a0a0a"/>
<circle cx="406.1" cy="82.9" r="1.55" fill="#0a0a0a"/>
<circle cx="397.5" cy="85.3" r="1.55" fill="#0a0a0a"/>
<circle cx="411.1" cy="84.6" r="1.55" fill="#0a0a0a"/>
<circle cx="407.6" cy="86.8" r="1.55" fill="#0a0a0a"/>
<circle cx="411.9" cy="87.2" r="1.55" fill="#0a0a0a"/>
<circle cx="417.2" cy="88.7" r="1.55" fill="#0a0a0a"/>
<circle cx="398.2" cy="89.4" r="1.55" fill="#0a0a0a"/>
<circle cx="400.5" cy="91.7" r="1.55" fill="#0a0a0a"/>
<circle cx="407.0" cy="90.2" r="1.55" fill="#0a0a0a"/>
<circle cx="411.9" cy="94.0" r="1.55" fill="#0a0a0a"/>
<circle cx="406.1" cy="97.8" r="1.55" fill="#0a0a0a"/>
<circle cx="411.6" cy="99.0" r="1.55" fill="#0a0a0a"/>
<circle cx="407.6" cy="103.1" r="1.55" fill="#0a0a0a"/>
<circle cx="392.9" cy="104.2" r="1.55" fill="#0a0a0a"/>
<circle cx="400.5" cy="105.1" r="1.55" fill="#0a0a0a"/>
<circle cx="405.1" cy="106.1" r="1.55" fill="#0a0a0a"/>
<circle cx="413.7" cy="107.2" r="1.55" fill="#0a0a0a"/>
<circle cx="394.4" cy="108.1" r="1.55" fill="#0a0a0a"/>
<circle cx="396.0" cy="112.2" r="1.55" fill="#0a0a0a"/>
<circle cx="401.3" cy="110.2" r="1.55" fill="#0a0a0a"/>
<circle cx="414.2" cy="116.8" r="1.55" fill="#0a0a0a"/>
<circle cx="404.6" cy="118.7" r="1.55" fill="#0a0a0a"/>
<circle cx="412.7" cy="119.8" r="1.55" fill="#0a0a0a"/>
<circle cx="409.2" cy="121.3" r="1.55" fill="#0a0a0a"/>
<circle cx="399.0" cy="123.3" r="1.55" fill="#0a0a0a"/>
<circle cx="401.0" cy="124.8" r="1.55" fill="#0a0a0a"/>
<circle cx="411.1" cy="123.9" r="1.55" fill="#0a0a0a"/>
<circle cx="406.6" cy="122.9" r="1.55" fill="#0a0a0a"/>
<circle cx="404.6" cy="127.4" r="1.55" fill="#0a0a0a"/>
<circle cx="413.7" cy="128.9" r="1.55" fill="#0a0a0a"/>
<circle cx="399.0" cy="130.0" r="1.55" fill="#0a0a0a"/>
<circle cx="407.0" cy="131.5" r="1.55" fill="#0a0a0a"/>
<circle cx="404.0" cy="132.4" r="1.55" fill="#0a0a0a"/>
<circle cx="394.9" cy="133.9" r="1.55" fill="#0a0a0a"/>
<circle cx="399.7" cy="133.5" r="1.55" fill="#0a0a0a"/>
<circle cx="386.2" cy="137.9" r="1.55" fill="#0a0a0a"/>
<circle cx="402.1" cy="140.5" r="1.55" fill="#0a0a0a"/>
<circle cx="407.0" cy="139.9" r="1.55" fill="#0a0a0a"/>
<circle cx="394.2" cy="141.4" r="1.55" fill="#0a0a0a"/>
<circle cx="393.0" cy="142.9" r="1.55" fill="#0a0a0a"/>
<circle cx="409.7" cy="152.0" r="1.55" fill="#0a0a0a"/>
<circle cx="406.4" cy="155.4" r="1.55" fill="#0a0a0a"/>
<circle cx="408.5" cy="156.1" r="1.55" fill="#0a0a0a"/>
<circle cx="412.0" cy="159.2" r="1.55" fill="#0a0a0a"/>
<circle cx="414.6" cy="159.6" r="1.55" fill="#0a0a0a"/>
<circle cx="417.0" cy="164.8" r="1.55" fill="#0a0a0a"/>
<circle cx="386.2" cy="166.8" r="1.55" fill="#0a0a0a"/>
<circle cx="407.0" cy="166.0" r="1.55" fill="#0a0a0a"/>
<circle cx="409.0" cy="167.8" r="1.55" fill="#0a0a0a"/>
<circle cx="407.4" cy="170.6" r="1.55" fill="#0a0a0a"/>
<circle cx="420.7" cy="171.3" r="1.55" fill="#0a0a0a"/>
<circle cx="401.8" cy="183.9" r="1.55" fill="#0a0a0a"/>
<circle cx="404.4" cy="187.3" r="1.55" fill="#0a0a0a"/>
<circle cx="397.9" cy="194.9" r="1.55" fill="#0a0a0a"/>
<circle cx="386.2" cy="197.0" r="1.55" fill="#0a0a0a"/>
<circle cx="400.3" cy="202.0" r="1.55" fill="#0a0a0a"/>
<circle cx="388.7" cy="203.1" r="1.55" fill="#0a0a0a"/>
<circle cx="373.2" cy="206.1" r="1.55" fill="#0a0a0a"/>
<circle cx="385.1" cy="205.1" r="1.55" fill="#0a0a0a"/>
<circle cx="390.3" cy="208.1" r="1.55" fill="#0a0a0a"/>
<circle cx="393.8" cy="209.6" r="1.55" fill="#0a0a0a"/>
<circle cx="400.3" cy="210.7" r="1.55" fill="#0a0a0a"/>
<circle cx="393.0" cy="212.2" r="1.55" fill="#0a0a0a"/>
<circle cx="411.2" cy="214.7" r="1.55" fill="#0a0a0a"/>
<circle cx="389.2" cy="215.3" r="1.55" fill="#0a0a0a"/>
<circle cx="392.2" cy="216.5" r="1.55" fill="#0a0a0a"/>
<circle cx="404.0" cy="218.8" r="1.55" fill="#0a0a0a"/>
<circle cx="393.8" cy="225.3" r="1.55" fill="#0a0a0a"/>
<circle cx="396.8" cy="226.4" r="1.55" fill="#0a0a0a"/>
<circle cx="393.8" cy="227.4" r="1.55" fill="#0a0a0a"/>
<circle cx="379.0" cy="229.4" r="1.55" fill="#0a0a0a"/>
<circle cx="390.7" cy="232.0" r="1.55" fill="#0a0a0a"/>
<circle cx="396.8" cy="234.0" r="1.55" fill="#0a0a0a"/>
<circle cx="394.8" cy="235.0" r="1.55" fill="#0a0a0a"/>
<circle cx="410.0" cy="237.0" r="1.55" fill="#0a0a0a"/>
<circle cx="428.3" cy="238.1" r="1.55" fill="#0a0a0a"/>
<circle cx="377.8" cy="239.0" r="1.55" fill="#0a0a0a"/>
<circle cx="390.2" cy="240.5" r="1.55" fill="#0a0a0a"/>
<circle cx="399.7" cy="241.5" r="1.55" fill="#0a0a0a"/>
<circle cx="402.7" cy="243.8" r="1.55" fill="#0a0a0a"/>
<circle cx="391.4" cy="244.9" r="1.55" fill="#0a0a0a"/>
<circle cx="373.1" cy="246.8" r="1.55" fill="#0a0a0a"/>
<circle cx="376.9" cy="248.1" r="1.55" fill="#0a0a0a"/>
<circle cx="385.7" cy="250.6" r="1.55" fill="#0a0a0a"/>
<circle cx="389.8" cy="252.5" r="1.55" fill="#0a0a0a"/>
<circle cx="405.4" cy="253.2" r="1.55" fill="#0a0a0a"/>
<circle cx="376.9" cy="254.4" r="1.55" fill="#0a0a0a"/>
<circle cx="383.2" cy="256.3" r="1.55" fill="#0a0a0a"/>
<circle cx="414.5" cy="257.6" r="1.55" fill="#0a0a0a"/>
<circle cx="395.2" cy="262.0" r="1.55" fill="#0a0a0a"/>
<circle cx="400.8" cy="267.1" r="1.55" fill="#0a0a0a"/>
<circle cx="403.5" cy="266.5" r="1.55" fill="#0a0a0a"/>
<circle cx="393.3" cy="269.0" r="1.55" fill="#0a0a0a"/>
<circle cx="381.3" cy="270.9" r="1.55" fill="#0a0a0a"/>
<circle cx="392.7" cy="272.2" r="1.55" fill="#0a0a0a"/>
<circle cx="395.5" cy="271.8" r="1.55" fill="#0a0a0a"/>
<circle cx="380.7" cy="274.7" r="1.55" fill="#0a0a0a"/>
<circle cx="394.6" cy="276.0" r="1.55" fill="#0a0a0a"/>
<circle cx="395.9" cy="277.5" r="1.55" fill="#0a0a0a"/>
<circle cx="365.2" cy="286.6" r="1.55" fill="#0a0a0a"/>
<circle cx="388.9" cy="288.5" r="1.55" fill="#0a0a0a"/>
<circle cx="358.5" cy="290.8" r="1.55" fill="#0a0a0a"/>
<circle cx="362.3" cy="294.2" r="1.55" fill="#0a0a0a"/>
<circle cx="369.4" cy="298.0" r="1.55" fill="#0a0a0a"/>
<circle cx="362.3" cy="299.9" r="1.55" fill="#0a0a0a"/>
<path d="M468.2,24.6 L464.4,26.8 L469.4,28.8 L466.0,31.4 L465.5,36.7 L464.4,39.0 L466.4,55.7 L468.2,55.7 L468.5,58.3 L472.0,60.7 L467.9,64.1 L472.8,65.3 L469.4,65.6 L473.1,68.3 L471.0,69.4 L466.4,73.9 L470.1,75.0 L466.0,78.0 L467.0,81.1 L476.1,82.9 L467.9,84.9 L464.4,85.9 L472.5,86.8 L466.0,91.4 L470.1,92.5 L462.9,97.0 L467.5,97.8 L464.0,99.0 L472.0,100.1 L466.4,102.0 L462.9,102.6 L464.4,104.6 L467.5,104.6 L472.5,107.2 L464.9,107.7 L467.9,111.2 L463.4,112.2 L462.2,113.0 L469.0,113.7 L467.5,115.3 L470.5,115.7 L469.7,119.8 L463.4,120.3 L470.5,123.3 L466.4,124.4 L459.4,126.3 L471.0,127.4 L467.9,128.5 L470.5,131.0 L462.5,132.0 L466.4,133.5 L478.9,134.2 L480.1,135.6 L498.3,136.4 L495.6,137.1 L474.0,137.9 L491.3,139.4 L464.4,139.4 L462.5,141.4 L469.0,142.0 L467.9,142.9 L466.4,151.6 L483.1,154.1 L467.9,155.1 L464.0,158.1 L472.5,159.9 L473.6,162.7 L460.9,164.8 L480.1,165.7 L467.9,166.8 L460.3,167.8 L459.4,170.3 L467.9,171.3 L479.6,176.9 L476.1,178.5 L493.3,180.4 L474.6,181.5 L481.9,182.4 L468.2,183.5 L464.4,187.0 L492.9,192.2 L471.3,194.4 L464.9,194.9 L510.0,196.0 L532.1,196.0 L468.2,197.0 L470.5,199.8 L459.4,201.6 L461.4,204.6 L471.3,205.8 L472.0,207.7 L466.0,208.1 L461.9,209.6 L459.4,210.1 L459.4,212.2 L464.0,214.7 L462.5,215.7 L522.2,216.2 L460.3,218.3 L459.4,220.7 L460.3,224.4 L460.9,225.3 L461.9,227.4 L480.1,229.4 L468.2,232.0 L462.5,233.5 L459.9,234.0 L511.1,235.5 L467.0,237.0 L478.1,237.5 L486.5,239.0 L461.0,239.3 L464.8,241.1 L487.0,243.4 L458.5,244.9 L462.3,246.2 L458.5,248.7 L459.5,251.0 L458.0,252.5 L497.5,253.3 L483.2,253.8 L457.2,256.3 L455.7,257.6 L460.4,259.5 L455.7,262.0 L465.2,266.6 L462.3,267.1 L465.6,268.5 L456.6,272.3 L463.3,272.3 L456.6,274.1 L461.8,275.7 L471.3,277.2 L456.1,286.1 L456.6,288.6 L455.7,290.9 L455.7,293.7 L456.6,298.1 L464.2,300.0" fill="none" stroke="#cfcfcf" stroke-width="0.55"/>
<path d="M468.2,24.6 C467.7,26.9 465.5,33.9 465.2,38.2 C464.9,42.5 465.9,47.1 466.4,50.4 C466.9,53.7 467.6,55.5 468.2,58.0 C468.8,60.5 469.5,63.3 469.7,65.6 C469.9,67.9 469.7,69.3 469.4,71.6 C469.1,73.9 468.0,77.4 467.9,79.2 C467.8,81.0 469.1,80.8 469.0,82.6 C468.9,84.4 468.0,87.2 467.5,90.2 C467.0,93.2 466.2,97.0 466.0,100.8 C465.8,104.6 466.4,109.7 466.4,113.0 C466.4,116.3 465.9,118.2 466.0,120.6 C466.1,123.0 466.1,125.6 467.0,127.4 C467.9,129.2 469.3,130.1 471.3,131.2 C473.3,132.3 476.4,133.3 478.9,134.2 C481.4,135.1 485.9,135.7 486.2,136.4 C486.4,137.1 483.1,137.6 480.4,138.3 C477.7,139.1 472.3,140.1 469.8,140.9 C467.3,141.7 466.1,142.3 465.2,143.2 C464.3,144.1 464.1,144.9 464.4,146.2 C464.6,147.5 465.8,149.3 466.7,150.8 C467.6,152.3 468.8,153.9 469.8,155.4 C470.8,156.9 472.5,158.5 472.5,159.9 C472.5,161.3 471.0,162.4 469.8,163.7 C468.6,165.0 465.8,166.5 465.2,167.8 C464.6,169.1 464.7,170.2 466.0,171.3 C467.3,172.4 470.8,173.2 472.8,174.4 C474.8,175.6 477.7,176.8 478.1,178.2 C478.5,179.6 476.5,181.3 475.1,182.7 C473.8,184.1 469.9,185.4 470.0,186.5 C470.1,187.6 473.2,188.2 475.8,189.1 C478.4,190.0 483.5,191.3 485.7,192.2 C487.9,193.1 488.9,193.7 488.8,194.4 C488.7,195.2 487.4,195.7 485.0,196.7 C482.6,197.7 477.6,199.2 474.3,200.5 C471.0,201.8 467.0,203.2 465.2,204.3 C463.4,205.5 463.1,206.4 463.4,207.4 C463.6,208.4 465.4,209.3 466.7,210.4 C468.0,211.5 470.3,213.2 471.3,214.2 C472.3,215.2 472.8,215.6 472.5,216.5 C472.2,217.4 471.3,218.4 469.8,219.5 C468.3,220.6 465.1,222.3 463.7,223.3 C462.3,224.3 461.1,224.7 461.4,225.6 C461.6,226.5 463.5,227.5 465.2,228.6 C466.9,229.7 469.8,231.1 471.3,232.4 C472.8,233.7 474.0,235.0 474.3,236.2 C474.6,237.4 474.5,237.8 473.0,239.5 C471.5,241.2 466.7,244.3 465.2,246.2 C463.7,248.1 465.0,249.2 464.2,251.0 C463.4,252.8 461.7,255.1 460.4,256.7 C459.1,258.3 456.8,259.2 456.6,260.5 C456.5,261.8 458.4,262.7 459.5,264.3 C460.6,265.9 463.1,268.1 463.3,270.0 C463.6,271.9 461.8,273.8 461.0,275.7 C460.2,277.6 459.1,279.2 458.5,281.4 C457.9,283.6 457.4,286.8 457.6,289.0 C457.8,291.2 458.6,292.9 459.5,294.7 C460.4,296.5 462.7,299.1 463.3,300.0" fill="none" stroke="#b3251f" stroke-width="1.15"/>
<circle cx="468.2" cy="24.6" r="1.55" fill="#0a0a0a"/>
<circle cx="464.4" cy="26.8" r="1.55" fill="#0a0a0a"/>
<circle cx="469.4" cy="28.8" r="1.55" fill="#0a0a0a"/>
<circle cx="466.0" cy="31.4" r="1.55" fill="#0a0a0a"/>
<circle cx="465.5" cy="36.7" r="1.55" fill="#0a0a0a"/>
<circle cx="464.4" cy="39.0" r="1.55" fill="#0a0a0a"/>
<circle cx="466.4" cy="55.7" r="1.55" fill="#0a0a0a"/>
<circle cx="468.2" cy="55.7" r="1.55" fill="#0a0a0a"/>
<circle cx="468.5" cy="58.3" r="1.55" fill="#0a0a0a"/>
<circle cx="472.0" cy="60.7" r="1.55" fill="#0a0a0a"/>
<circle cx="467.9" cy="64.1" r="1.55" fill="#0a0a0a"/>
<circle cx="469.4" cy="65.6" r="1.55" fill="#0a0a0a"/>
<circle cx="472.8" cy="65.3" r="1.55" fill="#0a0a0a"/>
<circle cx="473.1" cy="68.3" r="1.55" fill="#0a0a0a"/>
<circle cx="471.0" cy="69.4" r="1.55" fill="#0a0a0a"/>
<circle cx="466.4" cy="73.9" r="1.55" fill="#0a0a0a"/>
<circle cx="470.1" cy="75.0" r="1.55" fill="#0a0a0a"/>
<circle cx="466.0" cy="78.0" r="1.55" fill="#0a0a0a"/>
<circle cx="467.0" cy="81.1" r="1.55" fill="#0a0a0a"/>
<circle cx="476.1" cy="82.9" r="1.55" fill="#0a0a0a"/>
<circle cx="464.4" cy="85.9" r="1.55" fill="#0a0a0a"/>
<circle cx="467.9" cy="84.9" r="1.55" fill="#0a0a0a"/>
<circle cx="472.5" cy="86.8" r="1.55" fill="#0a0a0a"/>
<circle cx="466.0" cy="91.4" r="1.55" fill="#0a0a0a"/>
<circle cx="470.1" cy="92.5" r="1.55" fill="#0a0a0a"/>
<circle cx="462.9" cy="97.0" r="1.55" fill="#0a0a0a"/>
<circle cx="464.0" cy="99.0" r="1.55" fill="#0a0a0a"/>
<circle cx="467.5" cy="97.8" r="1.55" fill="#0a0a0a"/>
<circle cx="472.0" cy="100.1" r="1.55" fill="#0a0a0a"/>
<circle cx="462.9" cy="102.6" r="1.55" fill="#0a0a0a"/>
<circle cx="466.4" cy="102.0" r="1.55" fill="#0a0a0a"/>
<circle cx="464.4" cy="104.6" r="1.55" fill="#0a0a0a"/>
<circle cx="467.5" cy="104.6" r="1.55" fill="#0a0a0a"/>
<circle cx="472.5" cy="107.2" r="1.55" fill="#0a0a0a"/>
<circle cx="464.9" cy="107.7" r="1.55" fill="#0a0a0a"/>
<circle cx="467.9" cy="111.2" r="1.55" fill="#0a0a0a"/>
<circle cx="462.2" cy="113.0" r="1.55" fill="#0a0a0a"/>
<circle cx="463.4" cy="112.2" r="1.55" fill="#0a0a0a"/>
<circle cx="469.0" cy="113.7" r="1.55" fill="#0a0a0a"/>
<circle cx="467.5" cy="115.3" r="1.55" fill="#0a0a0a"/>
<circle cx="470.5" cy="115.7" r="1.55" fill="#0a0a0a"/>
<circle cx="463.4" cy="120.3" r="1.55" fill="#0a0a0a"/>
<circle cx="469.7" cy="119.8" r="1.55" fill="#0a0a0a"/>
<circle cx="470.5" cy="123.3" r="1.55" fill="#0a0a0a"/>
<circle cx="466.4" cy="124.4" r="1.55" fill="#0a0a0a"/>
<circle cx="459.4" cy="126.3" r="1.55" fill="#0a0a0a"/>
<circle cx="471.0" cy="127.4" r="1.55" fill="#0a0a0a"/>
<circle cx="467.9" cy="128.5" r="1.55" fill="#0a0a0a"/>
<circle cx="462.5" cy="132.0" r="1.55" fill="#0a0a0a"/>
<circle cx="466.4" cy="133.5" r="1.55" fill="#0a0a0a"/>
<circle cx="478.9" cy="134.2" r="1.55" fill="#0a0a0a"/>
<circle cx="470.5" cy="131.0" r="1.55" fill="#0a0a0a"/>
<circle cx="480.1" cy="135.6" r="1.55" fill="#0a0a0a"/>
<circle cx="495.6" cy="137.1" r="1.55" fill="#0a0a0a"/>
<circle cx="498.3" cy="136.4" r="1.55" fill="#0a0a0a"/>
<circle cx="474.0" cy="137.9" r="1.55" fill="#0a0a0a"/>
<circle cx="491.3" cy="139.4" r="1.55" fill="#0a0a0a"/>
<circle cx="464.4" cy="139.4" r="1.55" fill="#0a0a0a"/>
<circle cx="462.5" cy="141.4" r="1.55" fill="#0a0a0a"/>
<circle cx="467.9" cy="142.9" r="1.55" fill="#0a0a0a"/>
<circle cx="469.0" cy="142.0" r="1.55" fill="#0a0a0a"/>
<circle cx="466.4" cy="151.6" r="1.55" fill="#0a0a0a"/>
<circle cx="467.9" cy="155.1" r="1.55" fill="#0a0a0a"/>
<circle cx="483.1" cy="154.1" r="1.55" fill="#0a0a0a"/>
<circle cx="464.0" cy="158.1" r="1.55" fill="#0a0a0a"/>
<circle cx="472.5" cy="159.9" r="1.55" fill="#0a0a0a"/>
<circle cx="473.6" cy="162.7" r="1.55" fill="#0a0a0a"/>
<circle cx="460.9" cy="164.8" r="1.55" fill="#0a0a0a"/>
<circle cx="480.1" cy="165.7" r="1.55" fill="#0a0a0a"/>
<circle cx="467.9" cy="166.8" r="1.55" fill="#0a0a0a"/>
<circle cx="460.3" cy="167.8" r="1.55" fill="#0a0a0a"/>
<circle cx="459.4" cy="170.3" r="1.55" fill="#0a0a0a"/>
<circle cx="467.9" cy="171.3" r="1.55" fill="#0a0a0a"/>
<circle cx="479.6" cy="176.9" r="1.55" fill="#0a0a0a"/>
<circle cx="476.1" cy="178.5" r="1.55" fill="#0a0a0a"/>
<circle cx="493.3" cy="180.4" r="1.55" fill="#0a0a0a"/>
<circle cx="474.6" cy="181.5" r="1.55" fill="#0a0a0a"/>
<circle cx="481.9" cy="182.4" r="1.55" fill="#0a0a0a"/>
<circle cx="468.2" cy="183.5" r="1.55" fill="#0a0a0a"/>
<circle cx="464.4" cy="187.0" r="1.55" fill="#0a0a0a"/>
<circle cx="492.9" cy="192.2" r="1.55" fill="#0a0a0a"/>
<circle cx="464.9" cy="194.9" r="1.55" fill="#0a0a0a"/>
<circle cx="471.3" cy="194.4" r="1.55" fill="#0a0a0a"/>
<circle cx="510.0" cy="196.0" r="1.55" fill="#0a0a0a"/>
<circle cx="532.1" cy="196.0" r="1.55" fill="#0a0a0a"/>
<circle cx="468.2" cy="197.0" r="1.55" fill="#0a0a0a"/>
<circle cx="470.5" cy="199.8" r="1.55" fill="#0a0a0a"/>
<circle cx="459.4" cy="201.6" r="1.55" fill="#0a0a0a"/>
<circle cx="461.4" cy="204.6" r="1.55" fill="#0a0a0a"/>
<circle cx="471.3" cy="205.8" r="1.55" fill="#0a0a0a"/>
<circle cx="466.0" cy="208.1" r="1.55" fill="#0a0a0a"/>
<circle cx="472.0" cy="207.7" r="1.55" fill="#0a0a0a"/>
<circle cx="459.4" cy="210.1" r="1.55" fill="#0a0a0a"/>
<circle cx="461.9" cy="209.6" r="1.55" fill="#0a0a0a"/>
<circle cx="459.4" cy="212.2" r="1.55" fill="#0a0a0a"/>
<circle cx="464.0" cy="214.7" r="1.55" fill="#0a0a0a"/>
<circle cx="462.5" cy="215.7" r="1.55" fill="#0a0a0a"/>
<circle cx="522.2" cy="216.2" r="1.55" fill="#0a0a0a"/>
<circle cx="460.3" cy="218.3" r="1.55" fill="#0a0a0a"/>
<circle cx="459.4" cy="220.7" r="1.55" fill="#0a0a0a"/>
<circle cx="460.3" cy="224.4" r="1.55" fill="#0a0a0a"/>
<circle cx="460.9" cy="225.3" r="1.55" fill="#0a0a0a"/>
<circle cx="461.9" cy="227.4" r="1.55" fill="#0a0a0a"/>
<circle cx="480.1" cy="229.4" r="1.55" fill="#0a0a0a"/>
<circle cx="468.2" cy="232.0" r="1.55" fill="#0a0a0a"/>
<circle cx="459.9" cy="234.0" r="1.55" fill="#0a0a0a"/>
<circle cx="462.5" cy="233.5" r="1.55" fill="#0a0a0a"/>
<circle cx="511.1" cy="235.5" r="1.55" fill="#0a0a0a"/>
<circle cx="467.0" cy="237.0" r="1.55" fill="#0a0a0a"/>
<circle cx="478.1" cy="237.5" r="1.55" fill="#0a0a0a"/>
<circle cx="486.5" cy="239.0" r="1.55" fill="#0a0a0a"/>
<circle cx="461.0" cy="239.3" r="1.55" fill="#0a0a0a"/>
<circle cx="464.8" cy="241.1" r="1.55" fill="#0a0a0a"/>
<circle cx="487.0" cy="243.4" r="1.55" fill="#0a0a0a"/>
<circle cx="458.5" cy="244.9" r="1.55" fill="#0a0a0a"/>
<circle cx="462.3" cy="246.2" r="1.55" fill="#0a0a0a"/>
<circle cx="458.5" cy="248.7" r="1.55" fill="#0a0a0a"/>
<circle cx="459.5" cy="251.0" r="1.55" fill="#0a0a0a"/>
<circle cx="458.0" cy="252.5" r="1.55" fill="#0a0a0a"/>
<circle cx="483.2" cy="253.8" r="1.55" fill="#0a0a0a"/>
<circle cx="497.5" cy="253.3" r="1.55" fill="#0a0a0a"/>
<circle cx="457.2" cy="256.3" r="1.55" fill="#0a0a0a"/>
<circle cx="455.7" cy="257.6" r="1.55" fill="#0a0a0a"/>
<circle cx="460.4" cy="259.5" r="1.55" fill="#0a0a0a"/>
<circle cx="455.7" cy="262.0" r="1.55" fill="#0a0a0a"/>
<circle cx="462.3" cy="267.1" r="1.55" fill="#0a0a0a"/>
<circle cx="465.2" cy="266.6" r="1.55" fill="#0a0a0a"/>
<circle cx="465.6" cy="268.5" r="1.55" fill="#0a0a0a"/>
<circle cx="456.6" cy="272.3" r="1.55" fill="#0a0a0a"/>
<circle cx="463.3" cy="272.3" r="1.55" fill="#0a0a0a"/>
<circle cx="456.6" cy="274.1" r="1.55" fill="#0a0a0a"/>
<circle cx="461.8" cy="275.7" r="1.55" fill="#0a0a0a"/>
<circle cx="471.3" cy="277.2" r="1.55" fill="#0a0a0a"/>
<circle cx="456.1" cy="286.1" r="1.55" fill="#0a0a0a"/>
<circle cx="456.6" cy="288.6" r="1.55" fill="#0a0a0a"/>
<circle cx="455.7" cy="290.9" r="1.55" fill="#0a0a0a"/>
<circle cx="455.7" cy="293.7" r="1.55" fill="#0a0a0a"/>
<circle cx="456.6" cy="298.1" r="1.55" fill="#0a0a0a"/>
<circle cx="464.2" cy="300.0" r="1.55" fill="#0a0a0a"/>
<path d="M573.2,24.6 L567.5,27.3 L572.9,29.1 L571.4,31.4 L567.9,37.0 L567.5,39.0 L572.0,55.2 L569.9,57.2 L573.5,58.7 L575.5,60.7 L572.9,63.7 L575.1,65.3 L572.0,67.4 L575.1,68.3 L574.0,70.9 L570.2,73.9 L574.4,75.9 L571.0,78.0 L573.5,81.1 L581.6,82.9 L575.5,84.4 L572.0,85.6 L570.2,85.9 L574.0,87.5 L572.0,89.4 L593.3,90.2 L571.0,91.4 L567.5,92.5 L572.0,97.8 L575.1,100.1 L568.4,102.0 L569.4,103.6 L574.0,104.6 L571.4,106.1 L580.5,107.2 L569.9,108.1 L571.4,111.2 L569.4,112.7 L575.1,112.7 L576.6,114.8 L565.3,115.7 L578.1,119.8 L571.0,120.6 L573.5,123.3 L578.1,123.6 L565.9,126.3 L574.4,126.3 L581.6,127.4 L579.6,127.9 L576.6,129.4 L573.5,130.0 L576.3,131.5 L568.4,132.0 L572.5,133.5 L574.7,134.2 L569.0,134.8 L565.9,136.4 L580.8,137.1 L578.6,137.4 L567.5,139.4 L571.0,139.9 L577.5,141.4 L577.0,142.4 L569.4,143.2 L572.9,152.0 L585.4,154.1 L571.4,155.1 L570.2,158.1 L578.6,159.6 L579.3,160.7 L569.4,162.7 L574.0,164.8 L612.4,165.7 L567.5,167.8 L572.9,167.8 L566.0,170.2 L574.0,171.3 L572.0,175.9 L577.8,176.9 L571.4,178.9 L565.9,180.4 L564.4,182.4 L567.9,183.5 L592.7,184.2 L572.9,187.3 L564.4,191.9 L565.9,194.9 L579.3,194.9 L577.5,196.0 L599.8,197.0 L565.3,200.1 L565.9,202.0 L568.4,205.1 L594.2,206.1 L569.0,208.1 L565.9,210.4 L564.9,212.2 L578.6,214.7 L571.0,215.3 L636.3,216.2 L566.9,218.8 L564.9,220.7 L566.4,224.4 L576.0,225.3 L574.0,226.4 L572.0,227.4 L578.1,233.5 L572.9,235.0 L565.9,235.0 L592.2,237.0 L563.4,237.4 L570.2,239.6 L587.3,241.5 L644.6,243.4 L570.6,253.3 L600.5,253.3 L616.7,254.4 L567.9,259.5 L576.3,267.1 L589.2,268.4 L573.6,276.0 L598.3,277.2 L561.6,288.0" fill="none" stroke="#cfcfcf" stroke-width="0.55"/>
<path d="M573.2,24.6 C572.7,25.6 571.0,28.3 570.2,30.6 C569.4,32.9 568.5,35.4 568.4,38.2 C568.3,41.0 568.8,44.2 569.4,47.3 C570.0,50.3 571.0,53.5 571.7,56.5 C572.4,59.5 573.1,61.8 573.5,65.6 C573.9,69.4 573.8,76.1 574.0,79.2 C574.2,82.3 574.9,82.3 574.7,84.1 C574.5,85.9 573.5,88.2 572.9,90.2 C572.3,92.2 571.5,94.0 571.4,96.3 C571.3,98.6 572.4,101.8 572.5,103.9 C572.6,106.1 571.8,107.2 572.0,109.2 C572.2,111.2 573.7,113.6 574.0,116.0 C574.3,118.4 574.2,121.1 574.0,123.6 C573.8,126.1 572.7,128.7 572.5,131.2 C572.3,133.7 572.8,136.1 572.9,138.6 C573.0,141.1 572.9,143.7 573.2,146.2 C573.5,148.7 573.9,151.5 574.5,153.8 C575.1,156.1 575.8,158.1 577.0,159.9 C578.2,161.7 581.5,163.3 581.6,164.5 C581.7,165.7 579.6,166.1 577.8,166.8 C576.0,167.6 572.5,168.1 571.0,169.0 C569.5,169.9 569.0,170.8 568.7,172.1 C568.4,173.4 569.1,175.1 569.4,176.6 C569.6,178.1 569.9,179.6 570.2,181.2 C570.5,182.8 570.6,184.3 571.0,186.1 C571.4,187.9 571.9,189.9 572.5,192.2 C573.1,194.5 574.5,197.5 574.5,199.8 C574.5,202.1 573.0,204.4 572.5,205.8 C572.0,207.2 570.8,207.2 571.7,208.1 C572.6,209.0 576.0,210.0 577.8,211.2 C579.6,212.3 581.8,213.6 582.4,215.0 C583.0,216.4 582.6,218.0 581.6,219.5 C580.6,221.0 577.9,222.7 576.3,224.1 C574.6,225.5 573.1,226.5 571.7,227.9 C570.3,229.3 567.6,231.1 567.9,232.4 C568.1,233.7 571.1,234.7 573.2,235.5 C575.4,236.3 577.3,236.7 580.8,237.4 C584.2,238.1 590.6,238.4 593.9,239.6 C597.2,240.8 599.2,243.1 600.5,244.3 C601.8,245.5 601.6,245.5 601.5,246.8 C601.4,248.1 601.0,249.8 599.6,251.9 C598.2,254.0 595.4,257.1 593.0,259.5 C590.6,261.9 587.6,263.7 585.4,266.2 C583.2,268.7 581.6,272.2 579.7,274.7 C577.8,277.2 576.1,279.1 574.0,281.3 C571.9,283.5 568.4,286.9 567.3,288.0" fill="none" stroke="#b3251f" stroke-width="1.15"/>
<circle cx="573.2" cy="24.6" r="1.55" fill="#0a0a0a"/>
<circle cx="567.5" cy="27.3" r="1.55" fill="#0a0a0a"/>
<circle cx="572.9" cy="29.1" r="1.55" fill="#0a0a0a"/>
<circle cx="571.4" cy="31.4" r="1.55" fill="#0a0a0a"/>
<circle cx="567.9" cy="37.0" r="1.55" fill="#0a0a0a"/>
<circle cx="567.5" cy="39.0" r="1.55" fill="#0a0a0a"/>
<circle cx="572.0" cy="55.2" r="1.55" fill="#0a0a0a"/>
<circle cx="569.9" cy="57.2" r="1.55" fill="#0a0a0a"/>
<circle cx="573.5" cy="58.7" r="1.55" fill="#0a0a0a"/>
<circle cx="575.5" cy="60.7" r="1.55" fill="#0a0a0a"/>
<circle cx="572.9" cy="63.7" r="1.55" fill="#0a0a0a"/>
<circle cx="575.1" cy="65.3" r="1.55" fill="#0a0a0a"/>
<circle cx="572.0" cy="67.4" r="1.55" fill="#0a0a0a"/>
<circle cx="575.1" cy="68.3" r="1.55" fill="#0a0a0a"/>
<circle cx="574.0" cy="70.9" r="1.55" fill="#0a0a0a"/>
<circle cx="570.2" cy="73.9" r="1.55" fill="#0a0a0a"/>
<circle cx="574.4" cy="75.9" r="1.55" fill="#0a0a0a"/>
<circle cx="571.0" cy="78.0" r="1.55" fill="#0a0a0a"/>
<circle cx="573.5" cy="81.1" r="1.55" fill="#0a0a0a"/>
<circle cx="581.6" cy="82.9" r="1.55" fill="#0a0a0a"/>
<circle cx="575.5" cy="84.4" r="1.55" fill="#0a0a0a"/>
<circle cx="570.2" cy="85.9" r="1.55" fill="#0a0a0a"/>
<circle cx="572.0" cy="85.6" r="1.55" fill="#0a0a0a"/>
<circle cx="574.0" cy="87.5" r="1.55" fill="#0a0a0a"/>
<circle cx="572.0" cy="89.4" r="1.55" fill="#0a0a0a"/>
<circle cx="593.3" cy="90.2" r="1.55" fill="#0a0a0a"/>
<circle cx="567.5" cy="92.5" r="1.55" fill="#0a0a0a"/>
<circle cx="571.0" cy="91.4" r="1.55" fill="#0a0a0a"/>
<circle cx="572.0" cy="97.8" r="1.55" fill="#0a0a0a"/>
<circle cx="575.1" cy="100.1" r="1.55" fill="#0a0a0a"/>
<circle cx="568.4" cy="102.0" r="1.55" fill="#0a0a0a"/>
<circle cx="569.4" cy="103.6" r="1.55" fill="#0a0a0a"/>
<circle cx="574.0" cy="104.6" r="1.55" fill="#0a0a0a"/>
<circle cx="571.4" cy="106.1" r="1.55" fill="#0a0a0a"/>
<circle cx="580.5" cy="107.2" r="1.55" fill="#0a0a0a"/>
<circle cx="569.9" cy="108.1" r="1.55" fill="#0a0a0a"/>
<circle cx="571.4" cy="111.2" r="1.55" fill="#0a0a0a"/>
<circle cx="569.4" cy="112.7" r="1.55" fill="#0a0a0a"/>
<circle cx="575.1" cy="112.7" r="1.55" fill="#0a0a0a"/>
<circle cx="576.6" cy="114.8" r="1.55" fill="#0a0a0a"/>
<circle cx="565.3" cy="115.7" r="1.55" fill="#0a0a0a"/>
<circle cx="578.1" cy="119.8" r="1.55" fill="#0a0a0a"/>
<circle cx="571.0" cy="120.6" r="1.55" fill="#0a0a0a"/>
<circle cx="573.5" cy="123.3" r="1.55" fill="#0a0a0a"/>
<circle cx="578.1" cy="123.6" r="1.55" fill="#0a0a0a"/>
<circle cx="565.9" cy="126.3" r="1.55" fill="#0a0a0a"/>
<circle cx="574.4" cy="126.3" r="1.55" fill="#0a0a0a"/>
<circle cx="579.6" cy="127.9" r="1.55" fill="#0a0a0a"/>
<circle cx="581.6" cy="127.4" r="1.55" fill="#0a0a0a"/>
<circle cx="576.6" cy="129.4" r="1.55" fill="#0a0a0a"/>
<circle cx="573.5" cy="130.0" r="1.55" fill="#0a0a0a"/>
<circle cx="568.4" cy="132.0" r="1.55" fill="#0a0a0a"/>
<circle cx="576.3" cy="131.5" r="1.55" fill="#0a0a0a"/>
<circle cx="574.7" cy="134.2" r="1.55" fill="#0a0a0a"/>
<circle cx="572.5" cy="133.5" r="1.55" fill="#0a0a0a"/>
<circle cx="569.0" cy="134.8" r="1.55" fill="#0a0a0a"/>
<circle cx="565.9" cy="136.4" r="1.55" fill="#0a0a0a"/>
<circle cx="578.6" cy="137.4" r="1.55" fill="#0a0a0a"/>
<circle cx="580.8" cy="137.1" r="1.55" fill="#0a0a0a"/>
<circle cx="567.5" cy="139.4" r="1.55" fill="#0a0a0a"/>
<circle cx="571.0" cy="139.9" r="1.55" fill="#0a0a0a"/>
<circle cx="577.5" cy="141.4" r="1.55" fill="#0a0a0a"/>
<circle cx="569.4" cy="143.2" r="1.55" fill="#0a0a0a"/>
<circle cx="577.0" cy="142.4" r="1.55" fill="#0a0a0a"/>
<circle cx="572.9" cy="152.0" r="1.55" fill="#0a0a0a"/>
<circle cx="585.4" cy="154.1" r="1.55" fill="#0a0a0a"/>
<circle cx="571.4" cy="155.1" r="1.55" fill="#0a0a0a"/>
<circle cx="570.2" cy="158.1" r="1.55" fill="#0a0a0a"/>
<circle cx="578.6" cy="159.6" r="1.55" fill="#0a0a0a"/>
<circle cx="579.3" cy="160.7" r="1.55" fill="#0a0a0a"/>
<circle cx="569.4" cy="162.7" r="1.55" fill="#0a0a0a"/>
<circle cx="574.0" cy="164.8" r="1.55" fill="#0a0a0a"/>
<circle cx="612.4" cy="165.7" r="1.55" fill="#0a0a0a"/>
<circle cx="567.5" cy="167.8" r="1.55" fill="#0a0a0a"/>
<circle cx="572.9" cy="167.8" r="1.55" fill="#0a0a0a"/>
<circle cx="566.0" cy="170.2" r="1.55" fill="#0a0a0a"/>
<circle cx="574.0" cy="171.3" r="1.55" fill="#0a0a0a"/>
<circle cx="572.0" cy="175.9" r="1.55" fill="#0a0a0a"/>
<circle cx="577.8" cy="176.9" r="1.55" fill="#0a0a0a"/>
<circle cx="571.4" cy="178.9" r="1.55" fill="#0a0a0a"/>
<circle cx="565.9" cy="180.4" r="1.55" fill="#0a0a0a"/>
<circle cx="564.4" cy="182.4" r="1.55" fill="#0a0a0a"/>
<circle cx="567.9" cy="183.5" r="1.55" fill="#0a0a0a"/>
<circle cx="592.7" cy="184.2" r="1.55" fill="#0a0a0a"/>
<circle cx="572.9" cy="187.3" r="1.55" fill="#0a0a0a"/>
<circle cx="564.4" cy="191.9" r="1.55" fill="#0a0a0a"/>
<circle cx="565.9" cy="194.9" r="1.55" fill="#0a0a0a"/>
<circle cx="577.5" cy="196.0" r="1.55" fill="#0a0a0a"/>
<circle cx="579.3" cy="194.9" r="1.55" fill="#0a0a0a"/>
<circle cx="599.8" cy="197.0" r="1.55" fill="#0a0a0a"/>
<circle cx="565.3" cy="200.1" r="1.55" fill="#0a0a0a"/>
<circle cx="565.9" cy="202.0" r="1.55" fill="#0a0a0a"/>
<circle cx="568.4" cy="205.1" r="1.55" fill="#0a0a0a"/>
<circle cx="594.2" cy="206.1" r="1.55" fill="#0a0a0a"/>
<circle cx="569.0" cy="208.1" r="1.55" fill="#0a0a0a"/>
<circle cx="565.9" cy="210.4" r="1.55" fill="#0a0a0a"/>
<circle cx="564.9" cy="212.2" r="1.55" fill="#0a0a0a"/>
<circle cx="571.0" cy="215.3" r="1.55" fill="#0a0a0a"/>
<circle cx="578.6" cy="214.7" r="1.55" fill="#0a0a0a"/>
<circle cx="636.3" cy="216.2" r="1.55" fill="#0a0a0a"/>
<circle cx="566.9" cy="218.8" r="1.55" fill="#0a0a0a"/>
<circle cx="564.9" cy="220.7" r="1.55" fill="#0a0a0a"/>
<circle cx="566.4" cy="224.4" r="1.55" fill="#0a0a0a"/>
<circle cx="576.0" cy="225.3" r="1.55" fill="#0a0a0a"/>
<circle cx="574.0" cy="226.4" r="1.55" fill="#0a0a0a"/>
<circle cx="572.0" cy="227.4" r="1.55" fill="#0a0a0a"/>
<circle cx="578.1" cy="233.5" r="1.55" fill="#0a0a0a"/>
<circle cx="572.9" cy="235.0" r="1.55" fill="#0a0a0a"/>
<circle cx="565.9" cy="235.0" r="1.55" fill="#0a0a0a"/>
<circle cx="563.4" cy="237.4" r="1.55" fill="#0a0a0a"/>
<circle cx="592.2" cy="237.0" r="1.55" fill="#0a0a0a"/>
<circle cx="570.2" cy="239.6" r="1.55" fill="#0a0a0a"/>
<circle cx="587.3" cy="241.5" r="1.55" fill="#0a0a0a"/>
<circle cx="644.6" cy="243.4" r="1.55" fill="#0a0a0a"/>
<circle cx="570.6" cy="253.3" r="1.55" fill="#0a0a0a"/>
<circle cx="600.5" cy="253.3" r="1.55" fill="#0a0a0a"/>
<circle cx="616.7" cy="254.4" r="1.55" fill="#0a0a0a"/>
<circle cx="567.9" cy="259.5" r="1.55" fill="#0a0a0a"/>
<circle cx="576.3" cy="267.1" r="1.55" fill="#0a0a0a"/>
<circle cx="589.2" cy="268.4" r="1.55" fill="#0a0a0a"/>
<circle cx="573.6" cy="276.0" r="1.55" fill="#0a0a0a"/>
<circle cx="598.3" cy="277.2" r="1.55" fill="#0a0a0a"/>
<circle cx="561.6" cy="288.0" r="1.55" fill="#0a0a0a"/>
<text x="263.9" y="26.6" font-size="5.20" text-anchor="end" fill="#333" stroke="#333" stroke-width="0.00">lacustrine</text>
<text x="263.9" y="32.6" font-size="5.20" text-anchor="end" fill="#333" stroke="#333" stroke-width="0.00">algae</text>
<line x1="266.4" y1="24.9" x2="270" y2="24.9" stroke="#4f86cf" stroke-width="0.9" stroke-dasharray="1.2,1"/>
<path d="M265.2,24.9 l1.6,-1 v2 z" fill="#5b8fd0"/>
<text x="311.8" y="26.3" font-size="5.20" text-anchor="start" fill="#333" stroke="#333" stroke-width="0.00">C3 land</text>
<text x="311.8" y="32.6" font-size="5.20" text-anchor="start" fill="#333" stroke="#333" stroke-width="0.00">plants</text>
<line x1="304.6" y1="24.9" x2="308.8" y2="24.9" stroke="#4f86cf" stroke-width="0.9" stroke-dasharray="1.2,1"/>
<path d="M310.4,24.9 l-1.6,-1 v2 z" fill="#5b8fd0"/>
<text x="521.0" y="188.0" font-size="5.20" text-anchor="start" fill="#333" stroke="#333" stroke-width="0.00">689.2</text>
<path d="M532,190.6 v2.2 M531,191.8 l1,1.2 l1,-1.2" stroke="#5b8fd0" stroke-width="0.7" fill="none"/>
<text x="475.1" y="299.4" font-size="5.10" text-anchor="start" fill="#333" stroke="#333" stroke-width="0.00">upper limit of</text>
<text x="475.1" y="305.6" font-size="5.10" text-anchor="start" fill="#333" stroke="#333" stroke-width="0.00">background values</text>
<path d="M475.6,290.3 h1 v2.4 M475.4,291.8 l1.2,1.2 l1.2,-1.2" stroke="#3f6fc0" stroke-width="0.7" fill="none"/>
<line x1="139.6" y1="309.7" x2="231.2" y2="309.7" stroke="#b5b5b5" stroke-width="1.2"/>
<line x1="139.6" y1="309.5" x2="139.6" y2="314.8" stroke="#666" stroke-width="0.9"/>
<line x1="148.8" y1="309.5" x2="148.8" y2="314.8" stroke="#666" stroke-width="0.9"/>
<line x1="157.9" y1="309.5" x2="157.9" y2="314.8" stroke="#666" stroke-width="0.9"/>
<line x1="167.1" y1="309.5" x2="167.1" y2="314.8" stroke="#666" stroke-width="0.9"/>
<line x1="176.2" y1="309.5" x2="176.2" y2="314.8" stroke="#666" stroke-width="0.9"/>
<line x1="185.4" y1="309.5" x2="185.4" y2="314.8" stroke="#666" stroke-width="0.9"/>
<line x1="194.6" y1="309.5" x2="194.6" y2="314.8" stroke="#666" stroke-width="0.9"/>
<line x1="203.7" y1="309.5" x2="203.7" y2="314.8" stroke="#666" stroke-width="0.9"/>
<line x1="212.9" y1="309.5" x2="212.9" y2="314.8" stroke="#666" stroke-width="0.9"/>
<line x1="222.0" y1="309.5" x2="222.0" y2="314.8" stroke="#666" stroke-width="0.9"/>
<line x1="231.2" y1="309.5" x2="231.2" y2="314.8" stroke="#666" stroke-width="0.9"/>
<text x="139.6" y="327.6" font-size="8.60" text-anchor="middle" fill="#1a1a1a" stroke="#1a1a1a" stroke-width="0.15">0</text>
<text x="157.9" y="327.6" font-size="8.60" text-anchor="middle" fill="#1a1a1a" stroke="#1a1a1a" stroke-width="0.15">2</text>
<text x="176.2" y="327.6" font-size="8.60" text-anchor="middle" fill="#1a1a1a" stroke="#1a1a1a" stroke-width="0.15">4</text>
<text x="194.6" y="327.6" font-size="8.60" text-anchor="middle" fill="#1a1a1a" stroke="#1a1a1a" stroke-width="0.15">6</text>
<text x="212.9" y="327.6" font-size="8.60" text-anchor="middle" fill="#1a1a1a" stroke="#1a1a1a" stroke-width="0.15">8</text>
<text x="231.2" y="327.6" font-size="8.60" text-anchor="middle" fill="#1a1a1a" stroke="#1a1a1a" stroke-width="0.15">10</text>
<line x1="245.4" y1="309.7" x2="337.0" y2="309.7" stroke="#b5b5b5" stroke-width="1.2"/>
<line x1="245.4" y1="309.5" x2="245.4" y2="314.8" stroke="#666" stroke-width="0.9"/>
<line x1="259.7" y1="309.5" x2="259.7" y2="314.8" stroke="#666" stroke-width="0.9"/>
<line x1="274.1" y1="309.5" x2="274.1" y2="314.8" stroke="#666" stroke-width="0.9"/>
<line x1="288.4" y1="309.5" x2="288.4" y2="314.8" stroke="#666" stroke-width="0.9"/>
<line x1="302.7" y1="309.5" x2="302.7" y2="314.8" stroke="#666" stroke-width="0.9"/>
<line x1="317.1" y1="309.5" x2="317.1" y2="314.8" stroke="#666" stroke-width="0.9"/>
<line x1="331.4" y1="309.5" x2="331.4" y2="314.8" stroke="#666" stroke-width="0.9"/>
<text x="245.4" y="327.6" font-size="8.60" text-anchor="middle" fill="#1a1a1a" stroke="#1a1a1a" stroke-width="0.15">0</text>
<text x="259.7" y="327.6" font-size="8.60" text-anchor="middle" fill="#1a1a1a" stroke="#1a1a1a" stroke-width="0.15">5</text>
<text x="274.1" y="327.6" font-size="8.60" text-anchor="middle" fill="#1a1a1a" stroke="#1a1a1a" stroke-width="0.15">10</text>
<text x="288.4" y="327.6" font-size="8.60" text-anchor="middle" fill="#1a1a1a" stroke="#1a1a1a" stroke-width="0.15">15</text>
<text x="302.7" y="327.6" font-size="8.60" text-anchor="middle" fill="#1a1a1a" stroke="#1a1a1a" stroke-width="0.15">20</text>
<text x="317.1" y="327.6" font-size="8.60" text-anchor="middle" fill="#1a1a1a" stroke="#1a1a1a" stroke-width="0.15">25</text>
<text x="331.4" y="327.6" font-size="8.60" text-anchor="middle" fill="#1a1a1a" stroke="#1a1a1a" stroke-width="0.15">30</text>
<line x1="351.1" y1="309.7" x2="442.6" y2="309.7" stroke="#b5b5b5" stroke-width="1.2"/>
<line x1="351.1" y1="309.5" x2="351.1" y2="314.8" stroke="#666" stroke-width="0.9"/>
<line x1="360.2" y1="309.5" x2="360.2" y2="314.8" stroke="#666" stroke-width="0.9"/>
<line x1="369.4" y1="309.5" x2="369.4" y2="314.8" stroke="#666" stroke-width="0.9"/>
<line x1="378.6" y1="309.5" x2="378.6" y2="314.8" stroke="#666" stroke-width="0.9"/>
<line x1="387.7" y1="309.5" x2="387.7" y2="314.8" stroke="#666" stroke-width="0.9"/>
<line x1="396.9" y1="309.5" x2="396.9" y2="314.8" stroke="#666" stroke-width="0.9"/>
<line x1="406.0" y1="309.5" x2="406.0" y2="314.8" stroke="#666" stroke-width="0.9"/>
<line x1="415.2" y1="309.5" x2="415.2" y2="314.8" stroke="#666" stroke-width="0.9"/>
<line x1="424.3" y1="309.5" x2="424.3" y2="314.8" stroke="#666" stroke-width="0.9"/>
<line x1="433.5" y1="309.5" x2="433.5" y2="314.8" stroke="#666" stroke-width="0.9"/>
<line x1="442.6" y1="309.5" x2="442.6" y2="314.8" stroke="#666" stroke-width="0.9"/>
<text x="350.5" y="327.6" font-size="8.60" text-anchor="middle" fill="#1a1a1a" stroke="#1a1a1a" stroke-width="0.15">-31</text>
<text x="368.8" y="327.6" font-size="8.60" text-anchor="middle" fill="#1a1a1a" stroke="#1a1a1a" stroke-width="0.15">-29</text>
<text x="387.1" y="327.6" font-size="8.60" text-anchor="middle" fill="#1a1a1a" stroke="#1a1a1a" stroke-width="0.15">-27</text>
<text x="405.4" y="327.6" font-size="8.60" text-anchor="middle" fill="#1a1a1a" stroke="#1a1a1a" stroke-width="0.15">-25</text>
<text x="423.7" y="327.6" font-size="8.60" text-anchor="middle" fill="#1a1a1a" stroke="#1a1a1a" stroke-width="0.15">-23</text>
<text x="442.0" y="327.6" font-size="8.60" text-anchor="middle" fill="#1a1a1a" stroke="#1a1a1a" stroke-width="0.15">-21</text>
<line x1="455.8" y1="309.7" x2="547.1" y2="309.7" stroke="#b5b5b5" stroke-width="1.2"/>
<line x1="455.8" y1="309.5" x2="455.8" y2="314.8" stroke="#666" stroke-width="0.9"/>
<line x1="471.0" y1="309.5" x2="471.0" y2="314.8" stroke="#666" stroke-width="0.9"/>
<line x1="486.2" y1="309.5" x2="486.2" y2="314.8" stroke="#666" stroke-width="0.9"/>
<line x1="501.5" y1="309.5" x2="501.5" y2="314.8" stroke="#666" stroke-width="0.9"/>
<line x1="516.7" y1="309.5" x2="516.7" y2="314.8" stroke="#666" stroke-width="0.9"/>
<line x1="531.9" y1="309.5" x2="531.9" y2="314.8" stroke="#666" stroke-width="0.9"/>
<line x1="547.1" y1="309.5" x2="547.1" y2="314.8" stroke="#666" stroke-width="0.9"/>
<text x="455.8" y="327.6" font-size="8.60" text-anchor="middle" fill="#1a1a1a" stroke="#1a1a1a" stroke-width="0.15">0</text>
<text x="486.2" y="327.6" font-size="8.60" text-anchor="middle" fill="#1a1a1a" stroke="#1a1a1a" stroke-width="0.15">80</text>
<text x="516.7" y="327.6" font-size="8.60" text-anchor="middle" fill="#1a1a1a" stroke="#1a1a1a" stroke-width="0.15">160</text>
<text x="547.1" y="327.6" font-size="8.60" text-anchor="middle" fill="#1a1a1a" stroke="#1a1a1a" stroke-width="0.15">240</text>
<line x1="561.4" y1="309.7" x2="653.2" y2="309.7" stroke="#b5b5b5" stroke-width="1.2"/>
<line x1="561.4" y1="309.5" x2="561.4" y2="314.8" stroke="#666" stroke-width="0.9"/>
<line x1="570.6" y1="309.5" x2="570.6" y2="314.8" stroke="#666" stroke-width="0.9"/>
<line x1="579.8" y1="309.5" x2="579.8" y2="314.8" stroke="#666" stroke-width="0.9"/>
<line x1="588.9" y1="309.5" x2="588.9" y2="314.8" stroke="#666" stroke-width="0.9"/>
<line x1="598.1" y1="309.5" x2="598.1" y2="314.8" stroke="#666" stroke-width="0.9"/>
<line x1="607.3" y1="309.5" x2="607.3" y2="314.8" stroke="#666" stroke-width="0.9"/>
<line x1="616.5" y1="309.5" x2="616.5" y2="314.8" stroke="#666" stroke-width="0.9"/>
<line x1="625.7" y1="309.5" x2="625.7" y2="314.8" stroke="#666" stroke-width="0.9"/>
<line x1="634.8" y1="309.5" x2="634.8" y2="314.8" stroke="#666" stroke-width="0.9"/>
<line x1="644.0" y1="309.5" x2="644.0" y2="314.8" stroke="#666" stroke-width="0.9"/>
<line x1="653.2" y1="309.5" x2="653.2" y2="314.8" stroke="#666" stroke-width="0.9"/>
<text x="561.4" y="327.6" font-size="8.60" text-anchor="middle" fill="#1a1a1a" stroke="#1a1a1a" stroke-width="0.15">0</text>
<text x="579.8" y="327.6" font-size="8.60" text-anchor="middle" fill="#1a1a1a" stroke="#1a1a1a" stroke-width="0.15">80</text>
<text x="598.1" y="327.6" font-size="8.60" text-anchor="middle" fill="#1a1a1a" stroke="#1a1a1a" stroke-width="0.15">160</text>
<text x="616.5" y="327.6" font-size="8.60" text-anchor="middle" fill="#1a1a1a" stroke="#1a1a1a" stroke-width="0.15">240</text>
<text x="634.8" y="327.6" font-size="8.60" text-anchor="middle" fill="#1a1a1a" stroke="#1a1a1a" stroke-width="0.15">320</text>
<text x="653.2" y="327.6" font-size="8.60" text-anchor="middle" fill="#1a1a1a" stroke="#1a1a1a" stroke-width="0.15">400</text>
<rect x="660.3" y="130.1" width="12.8" height="131.3" fill="#cfe8d1"/>
<rect x="673.6" y="130.1" width="10.6" height="131.3" fill="#eeac68"/>
<line x1="660.3" y1="130.3" x2="673.3" y2="130.3" stroke="#333" stroke-width="0.9" stroke-dasharray="2,1.2"/>
<line x1="660.3" y1="200.5" x2="673.3" y2="200.5" stroke="#999" stroke-width="0.8" stroke-dasharray="2,1.5"/>
<line x1="660.3" y1="261.3" x2="673.3" y2="261.3" stroke="#999" stroke-width="0.8" stroke-dasharray="2,1.5"/>
<path d="M660.3,309.6 V21.2 H684.3 V309.6 Z" fill="none" stroke="#777" stroke-width="1"/>
<line x1="673.3" y1="21.2" x2="673.3" y2="309.6" stroke="#999" stroke-width="1"/>
<line x1="660.3" y1="309.8" x2="684.3" y2="309.8" stroke="#ccc" stroke-width="1"/>
<text x="669.8" y="166.6" font-size="8.30" text-anchor="middle" fill="#151515" stroke="#151515" stroke-width="0.15" transform="rotate(-90 669.8 166.6)">Phase II</text>
<text x="669.6" y="236.7" font-size="8.30" text-anchor="middle" fill="#151515" stroke="#151515" stroke-width="0.15" transform="rotate(-90 669.6 236.7)">Phase I</text>
<text x="681.7" y="201.0" font-size="8.00" text-anchor="middle" fill="#151515" stroke="#151515" stroke-width="0.15" transform="rotate(-90 681.7 201.0)">CPE</text>
<rect x="90.9" y="349.5" width="527.8" height="44.6" fill="#fff" stroke="#a0a0a0" stroke-width="1"/>
<line x1="90.9" y1="394.2" x2="618.7" y2="394.2" stroke="#666" stroke-width="1"/>
<line x1="619.6" y1="350.5" x2="619.6" y2="394.5" stroke="#ddd" stroke-width="1"/>
<text x="99.8" y="363.7" font-size="8.00" text-anchor="start" fill="#222" stroke="#222" stroke-width="0.15">LEGEND</text>
<rect x="146.1" y="357.1" width="14.8" height="7.2" fill="#8a8a8a" stroke="#5e5e5e" stroke-width="0.7"/>
<line x1="146.1" y1="359.5" x2="160.9" y2="359.5" stroke="#555" stroke-opacity="0.45" stroke-width="0.5"/>
<line x1="146.1" y1="361.9" x2="160.9" y2="361.9" stroke="#555" stroke-opacity="0.45" stroke-width="0.5"/>
<text x="164.1" y="362.6" font-size="5.60" text-anchor="start" fill="#2a2a2a" stroke="#2a2a2a" stroke-width="0.00">mudstone / shale, greyish/black</text>
<rect x="146.1" y="369.9" width="14.8" height="7.2" fill="#a7b8a4" stroke="#5e5e5e" stroke-width="0.7"/>
<line x1="146.1" y1="372.3" x2="160.9" y2="372.3" stroke="#555" stroke-opacity="0.45" stroke-width="0.5"/>
<line x1="146.1" y1="374.7" x2="160.9" y2="374.7" stroke="#555" stroke-opacity="0.45" stroke-width="0.5"/>
<text x="164.1" y="375.3" font-size="5.60" text-anchor="start" fill="#2a2a2a" stroke="#2a2a2a" stroke-width="0.00">mudstone / shale, greyish green</text>
<rect x="146.1" y="382.4" width="14.8" height="7.2" fill="#cf4565" stroke="#5e5e5e" stroke-width="0.7"/>
<line x1="146.1" y1="384.8" x2="160.9" y2="384.8" stroke="#555" stroke-opacity="0.45" stroke-width="0.5"/>
<line x1="146.1" y1="387.2" x2="160.9" y2="387.2" stroke="#555" stroke-opacity="0.45" stroke-width="0.5"/>
<text x="164.1" y="387.8" font-size="5.60" text-anchor="start" fill="#2a2a2a" stroke="#2a2a2a" stroke-width="0.00">mudstone, red</text>
<rect x="256.7" y="357.1" width="14.8" height="7.2" fill="#bdbdbd" stroke="#5e5e5e" stroke-width="0.7"/>
<line x1="257.7" y1="360.9" x2="271.5" y2="360.9" stroke="#666" stroke-width="0.5" stroke-dasharray="1.5,1.5"/>
<text x="274.1" y="362.6" font-size="5.60" text-anchor="start" fill="#2a2a2a" stroke="#2a2a2a" stroke-width="0.00">siltstone, greyish/black</text>
<rect x="256.7" y="369.9" width="14.8" height="7.2" fill="#c9ddc5" stroke="#5e5e5e" stroke-width="0.7"/>
<line x1="257.7" y1="373.7" x2="271.5" y2="373.7" stroke="#666" stroke-width="0.5" stroke-dasharray="1.5,1.5"/>
<text x="274.1" y="375.3" font-size="5.60" text-anchor="start" fill="#2a2a2a" stroke="#2a2a2a" stroke-width="0.00">siltstone, greyish green</text>
<rect x="256.7" y="382.4" width="14.8" height="7.2" fill="#d67676" stroke="#5e5e5e" stroke-width="0.7"/>
<line x1="256.7" y1="384.8" x2="271.5" y2="384.8" stroke="#555" stroke-opacity="0.45" stroke-width="0.5"/>
<line x1="256.7" y1="387.2" x2="271.5" y2="387.2" stroke="#555" stroke-opacity="0.45" stroke-width="0.5"/>
<text x="274.1" y="387.8" font-size="5.60" text-anchor="start" fill="#2a2a2a" stroke="#2a2a2a" stroke-width="0.00">mudstone, purplish red</text>
<rect x="346.7" y="357.1" width="14.8" height="7.2" fill="#ababab" stroke="#5e5e5e" stroke-width="0.7"/>
<text x="366.5" y="362.6" font-size="5.60" text-anchor="start" fill="#2a2a2a" stroke="#2a2a2a" stroke-width="0.00">sandstone, greyish/black</text>
<rect x="346.7" y="369.9" width="14.8" height="7.2" fill="#b3cdb0" stroke="#5e5e5e" stroke-width="0.7"/>
<text x="366.5" y="375.3" font-size="5.60" text-anchor="start" fill="#2a2a2a" stroke="#2a2a2a" stroke-width="0.00">sandstone, greyish green</text>
<rect x="346.7" y="382.4" width="14.8" height="7.2" fill="#d9a6a6" stroke="#5e5e5e" stroke-width="0.7"/>
<line x1="346.7" y1="384.8" x2="361.5" y2="384.8" stroke="#555" stroke-opacity="0.45" stroke-width="0.5"/>
<line x1="346.7" y1="387.2" x2="361.5" y2="387.2" stroke="#555" stroke-opacity="0.45" stroke-width="0.5"/>
<text x="366.5" y="387.8" font-size="5.60" text-anchor="start" fill="#2a2a2a" stroke="#2a2a2a" stroke-width="0.00">mudstone, light red</text>
<rect x="441.7" y="357.1" width="14.8" height="7.2" fill="#b0b0b0" stroke="#5e5e5e" stroke-width="0.7"/>
<circle cx="444.7" cy="360.9" r="0.9" fill="none" stroke="#666" stroke-width="0.4"/>
<circle cx="449.0" cy="360.9" r="0.9" fill="none" stroke="#666" stroke-width="0.4"/>
<circle cx="453.3" cy="360.9" r="0.9" fill="none" stroke="#666" stroke-width="0.4"/>
<text x="462.0" y="362.6" font-size="5.60" text-anchor="start" fill="#2a2a2a" stroke="#2a2a2a" stroke-width="0.00">conglomerate, greyish/black</text>
<rect x="441.7" y="369.9" width="14.8" height="7.2" fill="#bfd6bb" stroke="#5e5e5e" stroke-width="0.7"/>
<circle cx="444.7" cy="373.7" r="0.9" fill="none" stroke="#666" stroke-width="0.4"/>
<circle cx="449.0" cy="373.7" r="0.9" fill="none" stroke="#666" stroke-width="0.4"/>
<circle cx="453.3" cy="373.7" r="0.9" fill="none" stroke="#666" stroke-width="0.4"/>
<text x="462.0" y="375.3" font-size="5.60" text-anchor="start" fill="#2a2a2a" stroke="#2a2a2a" stroke-width="0.00">conglomerate, greyish green</text>
<rect x="441.7" y="382.4" width="14.8" height="7.2" fill="#f2c9c9" stroke="#5e5e5e" stroke-width="0.7"/>
<line x1="442.7" y1="386.2" x2="456.5" y2="386.2" stroke="#666" stroke-width="0.5" stroke-dasharray="1.5,1.5"/>
<text x="462.0" y="387.8" font-size="5.60" text-anchor="start" fill="#2a2a2a" stroke="#2a2a2a" stroke-width="0.00">siltstone, light red</text>
<rect x="546.1" y="356.6" width="14.9" height="7.6" fill="#8b8e91" stroke="#6a6a6a" stroke-width="0.6"/>
<text x="569.4" y="361.2" font-size="5.60" text-anchor="start" fill="#2a2a2a" stroke="#2a2a2a" stroke-width="0.00" textLength="39.6" lengthAdjust="spacingAndGlyphs">marl, greyish/black</text>
<line x1="546" y1="374" x2="561" y2="374" stroke="#111" stroke-width="1.6"/>
<text x="569.4" y="375.7" font-size="5.60" text-anchor="start" fill="#333" stroke="#333" stroke-width="0.00">coal</text>
<path d="M546,387.2 q0.75,-0.9 1.5,0 t1.5,0 t1.5,0 t1.5,0 t1.5,0 t1.5,0 t1.5,0 t1.5,0 t1.5,0 t1.5,0" fill="none" stroke="#777" stroke-width="0.55"/>
<text x="569.4" y="388.9" font-size="5.60" text-anchor="start" fill="#333" stroke="#333" stroke-width="0.00">unconformity</text>
</svg></body></html>
